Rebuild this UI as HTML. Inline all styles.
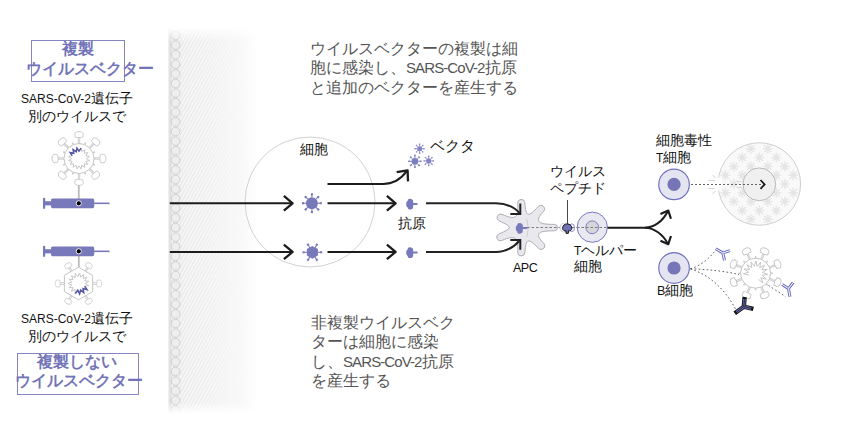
<!DOCTYPE html>
<html><head><meta charset="utf-8">
<style>
html,body{margin:0;padding:0;background:#fff;}
body{width:849px;height:430px;position:relative;overflow:hidden;font-family:"Liberation Sans",sans-serif;}
svg{position:absolute;left:0;top:0;}
.t{position:absolute;white-space:nowrap;color:#111;font-size:13px;line-height:16px;}
.hd{position:absolute;white-space:nowrap;color:#7374b8;font-weight:bold;font-size:16px;line-height:20px;}
.gr{position:absolute;white-space:nowrap;color:#555;font-size:16px;line-height:20px;}
.box{position:absolute;border:1px solid #8585c2;box-sizing:border-box;}
.s12{font-size:12px;}
.s125{font-size:12.5px;}
.s15{font-size:15px;letter-spacing:-0.9px;}
</style></head><body>
<svg width="849" height="430" viewBox="0 0 849 430">
<defs>
  <pattern id="hatch" patternUnits="userSpaceOnUse" width="3.05" height="10" patternTransform="rotate(29)">
    <rect width="1.1" height="10" fill="#e5e5e5"/>
  </pattern>
  <linearGradient id="fadeR" gradientUnits="userSpaceOnUse" x1="169" y1="0" x2="245" y2="0">
    <stop offset="0" stop-color="#fff" stop-opacity="1"/>
    <stop offset="0.12" stop-color="#fff" stop-opacity="1"/>
    <stop offset="1" stop-color="#fff" stop-opacity="0"/>
  </linearGradient>
  <linearGradient id="tint" gradientUnits="userSpaceOnUse" x1="169" y1="0" x2="262" y2="0">
    <stop offset="0" stop-color="#f5f5f5" stop-opacity="1"/>
    <stop offset="0.8" stop-color="#f9f9f9" stop-opacity="1"/>
    <stop offset="1" stop-color="#fdfdfd" stop-opacity="0"/>
  </linearGradient>
  <linearGradient id="fadeV" x1="0" y1="0" x2="0" y2="1">
    <stop offset="0" stop-color="#fff" stop-opacity="0"/>
    <stop offset="0.036" stop-color="#fff" stop-opacity="1"/>
    <stop offset="0.97" stop-color="#fff" stop-opacity="1"/>
    <stop offset="1" stop-color="#fff" stop-opacity="0"/>
  </linearGradient>
  <mask id="mR" maskUnits="userSpaceOnUse" x="160" y="20" width="120" height="400"><rect x="169" y="24" width="100" height="394" fill="url(#fadeR)"/></mask>
  <mask id="mV" maskUnits="userSpaceOnUse" x="160" y="20" width="120" height="400"><rect x="160" y="27" width="120" height="387" fill="url(#fadeV)"/></mask>
</defs>
<g mask="url(#mV)">
<rect x="169" y="24" width="100" height="394" fill="url(#tint)"/>
<rect x="169" y="24" width="100" height="394" fill="url(#hatch)" mask="url(#mR)"/>
<rect x="168.5" y="24" width="3" height="394" fill="#e2e2e2"/>
<g fill="#eeeef0" stroke="#d0d0d0" stroke-width="1">
<circle cx="175.6" cy="35.5" r="4.35"/>
<circle cx="175.6" cy="45.1" r="4.35"/>
<circle cx="175.6" cy="54.7" r="4.35"/>
<circle cx="175.6" cy="64.3" r="4.35"/>
<circle cx="175.6" cy="73.9" r="4.35"/>
<circle cx="175.6" cy="83.5" r="4.35"/>
<circle cx="175.6" cy="93.1" r="4.35"/>
<circle cx="175.6" cy="102.7" r="4.35"/>
<circle cx="175.6" cy="112.3" r="4.35"/>
<circle cx="175.6" cy="121.9" r="4.35"/>
<circle cx="175.6" cy="131.5" r="4.35"/>
<circle cx="175.6" cy="141.1" r="4.35"/>
<circle cx="175.6" cy="150.7" r="4.35"/>
<circle cx="175.6" cy="160.3" r="4.35"/>
<circle cx="175.6" cy="169.9" r="4.35"/>
<circle cx="175.6" cy="179.5" r="4.35"/>
<circle cx="175.6" cy="189.1" r="4.35"/>
<circle cx="175.6" cy="198.7" r="4.35"/>
<circle cx="175.6" cy="208.3" r="4.35"/>
<circle cx="175.6" cy="217.9" r="4.35"/>
<circle cx="175.6" cy="227.5" r="4.35"/>
<circle cx="175.6" cy="237.1" r="4.35"/>
<circle cx="175.6" cy="246.7" r="4.35"/>
<circle cx="175.6" cy="256.3" r="4.35"/>
<circle cx="175.6" cy="265.9" r="4.35"/>
<circle cx="175.6" cy="275.5" r="4.35"/>
<circle cx="175.6" cy="285.1" r="4.35"/>
<circle cx="175.6" cy="294.7" r="4.35"/>
<circle cx="175.6" cy="304.3" r="4.35"/>
<circle cx="175.6" cy="313.9" r="4.35"/>
<circle cx="175.6" cy="323.5" r="4.35"/>
<circle cx="175.6" cy="333.1" r="4.35"/>
<circle cx="175.6" cy="342.7" r="4.35"/>
<circle cx="175.6" cy="352.3" r="4.35"/>
<circle cx="175.6" cy="361.9" r="4.35"/>
<circle cx="175.6" cy="371.5" r="4.35"/>
<circle cx="175.6" cy="381.1" r="4.35"/>
<circle cx="175.6" cy="390.7" r="4.35"/>
<circle cx="175.6" cy="400.3" r="4.35"/>
<circle cx="175.6" cy="409.9" r="4.35"/>
<circle cx="175.6" cy="419.5" r="4.35"/>
</g></g>
<g>
<line x1="94" y1="158.5" x2="100.2" y2="158.5" stroke="#cdcdcd" stroke-width="2.4"/>
<line x1="94" y1="158.5" x2="100.2" y2="158.5" stroke="#e8e8e8" stroke-width="0.8"/>
<g transform="translate(99.9,158.5) rotate(0) scale(1)"><path d="M0.4,-2.6 C-0.3,-3.9 1.2,-4.5 2.3,-4 C3.1,-4.7 5.1,-4.3 5.3,-2.8 C6.3,-2 6.3,2 5.3,2.8 C5.1,4.3 3.1,4.7 2.3,4 C1.2,4.5 -0.3,3.9 0.4,2.6 C-0.2,1.3 -0.2,-1.3 0.4,-2.6 Z" fill="#fff" stroke="#c4c4c4" stroke-width="0.9"/></g>
<line x1="89.61" y1="169.11" x2="93.99" y2="173.49" stroke="#cdcdcd" stroke-width="2.4"/>
<line x1="89.61" y1="169.11" x2="93.99" y2="173.49" stroke="#e8e8e8" stroke-width="0.8"/>
<g transform="translate(93.78,173.28) rotate(45) scale(1)"><path d="M0.4,-2.6 C-0.3,-3.9 1.2,-4.5 2.3,-4 C3.1,-4.7 5.1,-4.3 5.3,-2.8 C6.3,-2 6.3,2 5.3,2.8 C5.1,4.3 3.1,4.7 2.3,4 C1.2,4.5 -0.3,3.9 0.4,2.6 C-0.2,1.3 -0.2,-1.3 0.4,-2.6 Z" fill="#fff" stroke="#c4c4c4" stroke-width="0.9"/></g>
<line x1="79" y1="173.5" x2="79" y2="179.7" stroke="#cdcdcd" stroke-width="2.4"/>
<line x1="79" y1="173.5" x2="79" y2="179.7" stroke="#e8e8e8" stroke-width="0.8"/>
<g transform="translate(79,179.4) rotate(90) scale(1)"><path d="M0.4,-2.6 C-0.3,-3.9 1.2,-4.5 2.3,-4 C3.1,-4.7 5.1,-4.3 5.3,-2.8 C6.3,-2 6.3,2 5.3,2.8 C5.1,4.3 3.1,4.7 2.3,4 C1.2,4.5 -0.3,3.9 0.4,2.6 C-0.2,1.3 -0.2,-1.3 0.4,-2.6 Z" fill="#fff" stroke="#c4c4c4" stroke-width="0.9"/></g>
<line x1="68.39" y1="169.11" x2="64.01" y2="173.49" stroke="#cdcdcd" stroke-width="2.4"/>
<line x1="68.39" y1="169.11" x2="64.01" y2="173.49" stroke="#e8e8e8" stroke-width="0.8"/>
<g transform="translate(64.22,173.28) rotate(135) scale(1)"><path d="M0.4,-2.6 C-0.3,-3.9 1.2,-4.5 2.3,-4 C3.1,-4.7 5.1,-4.3 5.3,-2.8 C6.3,-2 6.3,2 5.3,2.8 C5.1,4.3 3.1,4.7 2.3,4 C1.2,4.5 -0.3,3.9 0.4,2.6 C-0.2,1.3 -0.2,-1.3 0.4,-2.6 Z" fill="#fff" stroke="#c4c4c4" stroke-width="0.9"/></g>
<line x1="64" y1="158.5" x2="57.8" y2="158.5" stroke="#cdcdcd" stroke-width="2.4"/>
<line x1="64" y1="158.5" x2="57.8" y2="158.5" stroke="#e8e8e8" stroke-width="0.8"/>
<g transform="translate(58.1,158.5) rotate(180) scale(1)"><path d="M0.4,-2.6 C-0.3,-3.9 1.2,-4.5 2.3,-4 C3.1,-4.7 5.1,-4.3 5.3,-2.8 C6.3,-2 6.3,2 5.3,2.8 C5.1,4.3 3.1,4.7 2.3,4 C1.2,4.5 -0.3,3.9 0.4,2.6 C-0.2,1.3 -0.2,-1.3 0.4,-2.6 Z" fill="#fff" stroke="#c4c4c4" stroke-width="0.9"/></g>
<line x1="68.39" y1="147.89" x2="64.01" y2="143.51" stroke="#cdcdcd" stroke-width="2.4"/>
<line x1="68.39" y1="147.89" x2="64.01" y2="143.51" stroke="#e8e8e8" stroke-width="0.8"/>
<g transform="translate(64.22,143.72) rotate(225) scale(1)"><path d="M0.4,-2.6 C-0.3,-3.9 1.2,-4.5 2.3,-4 C3.1,-4.7 5.1,-4.3 5.3,-2.8 C6.3,-2 6.3,2 5.3,2.8 C5.1,4.3 3.1,4.7 2.3,4 C1.2,4.5 -0.3,3.9 0.4,2.6 C-0.2,1.3 -0.2,-1.3 0.4,-2.6 Z" fill="#fff" stroke="#c4c4c4" stroke-width="0.9"/></g>
<line x1="79" y1="143.5" x2="79" y2="137.3" stroke="#cdcdcd" stroke-width="2.4"/>
<line x1="79" y1="143.5" x2="79" y2="137.3" stroke="#e8e8e8" stroke-width="0.8"/>
<g transform="translate(79,137.6) rotate(270) scale(1)"><path d="M0.4,-2.6 C-0.3,-3.9 1.2,-4.5 2.3,-4 C3.1,-4.7 5.1,-4.3 5.3,-2.8 C6.3,-2 6.3,2 5.3,2.8 C5.1,4.3 3.1,4.7 2.3,4 C1.2,4.5 -0.3,3.9 0.4,2.6 C-0.2,1.3 -0.2,-1.3 0.4,-2.6 Z" fill="#fff" stroke="#c4c4c4" stroke-width="0.9"/></g>
<line x1="89.61" y1="147.89" x2="93.99" y2="143.51" stroke="#cdcdcd" stroke-width="2.4"/>
<line x1="89.61" y1="147.89" x2="93.99" y2="143.51" stroke="#e8e8e8" stroke-width="0.8"/>
<g transform="translate(93.78,143.72) rotate(315) scale(1)"><path d="M0.4,-2.6 C-0.3,-3.9 1.2,-4.5 2.3,-4 C3.1,-4.7 5.1,-4.3 5.3,-2.8 C6.3,-2 6.3,2 5.3,2.8 C5.1,4.3 3.1,4.7 2.3,4 C1.2,4.5 -0.3,3.9 0.4,2.6 C-0.2,1.3 -0.2,-1.3 0.4,-2.6 Z" fill="#fff" stroke="#c4c4c4" stroke-width="0.9"/></g>
<line x1="92.86" y1="164.24" x2="94.89" y2="165.08" stroke="#c6c6c6" stroke-width="1.4"/>
<line x1="84.74" y1="172.36" x2="85.58" y2="174.39" stroke="#c6c6c6" stroke-width="1.4"/>
<line x1="73.26" y1="172.36" x2="72.42" y2="174.39" stroke="#c6c6c6" stroke-width="1.4"/>
<line x1="65.14" y1="164.24" x2="63.11" y2="165.08" stroke="#c6c6c6" stroke-width="1.4"/>
<line x1="65.14" y1="152.76" x2="63.11" y2="151.92" stroke="#c6c6c6" stroke-width="1.4"/>
<line x1="73.26" y1="144.64" x2="72.42" y2="142.61" stroke="#c6c6c6" stroke-width="1.4"/>
<line x1="84.74" y1="144.64" x2="85.58" y2="142.61" stroke="#c6c6c6" stroke-width="1.4"/>
<line x1="92.86" y1="152.76" x2="94.89" y2="151.92" stroke="#c6c6c6" stroke-width="1.4"/>
<circle cx="79" cy="158.5" r="15" fill="#fff" stroke="#c6c6c6" stroke-width="1"/>
</g>
<polyline points="86.4,158.5 89.4,160.57 85.84,161.33 87.81,164.39 84.23,163.73 84.89,167.31 81.83,165.34 81.07,168.9 79,165.9 76.93,168.9 76.17,165.34 73.11,167.31 73.77,163.73 70.19,164.39 72.16,161.33 68.6,160.57 71.6,158.5 68.6,156.43 72.16,155.67 70.19,152.61 73.77,153.27 73.11,149.69 76.17,151.66 76.93,148.1 79,151.1 81.07,148.1 81.83,151.66 84.89,149.69 84.23,153.27 87.81,152.61 85.84,155.67 89.4,156.43 86.4,158.5" fill="none" stroke="#c6c6c6" stroke-width="1"/>
<polyline points="72.16,155.67 70.19,152.61 73.77,153.27 73.11,149.69 76.17,151.66 76.93,148.1 79,151.1 81.07,148.1" fill="none" stroke="#5556a6" stroke-width="1.5" stroke-linejoin="miter"/>
<line x1="78.8" y1="185" x2="78.8" y2="203" stroke="#bcbcbc" stroke-width="1.8"/>
<g fill="#7879bb">
<rect x="43" y="197.9" width="2.2" height="10.8" />
<rect x="44" y="201.2" width="8" height="4.2" />
<rect x="51" y="198.4" width="43.2" height="9.8" rx="1.6"/>
<rect x="93" y="202.5" width="16.5" height="1.6" />
</g>
<circle cx="78.8" cy="203.3" r="2.6" fill="#000" stroke="#fff" stroke-width="0.9"/>
<line x1="78.8" y1="251.3" x2="78.8" y2="267.5" stroke="#bcbcbc" stroke-width="1.8"/>
<g fill="#7879bb">
<rect x="43" y="245.9" width="2.2" height="10.8" />
<rect x="44" y="249.2" width="8" height="4.2" />
<rect x="51" y="246.4" width="43.2" height="9.8" rx="1.6"/>
<rect x="93" y="250.5" width="16.5" height="1.6" />
</g>
<circle cx="78.8" cy="251.3" r="2.6" fill="#000" stroke="#fff" stroke-width="0.9"/>
<line x1="92.62" y1="283.5" x2="97.1" y2="283.5" stroke="#c6c6c6" stroke-width="2.4"/>
<line x1="92.62" y1="283.5" x2="97.1" y2="283.5" stroke="#fff" stroke-width="0.8"/>
<g transform="translate(96.8,283.5) rotate(0) scale(0.82)"><path d="M0.4,-2.6 C-0.3,-3.9 1.2,-4.5 2.3,-4 C3.1,-4.7 5.1,-4.3 5.3,-2.8 C6.3,-2 6.3,2 5.3,2.8 C5.1,4.3 3.1,4.7 2.3,4 C1.2,4.5 -0.3,3.9 0.4,2.6 C-0.2,1.3 -0.2,-1.3 0.4,-2.6 Z" fill="#fff" stroke="#c4c4c4" stroke-width="0.9"/></g>
<line x1="85.56" y1="295.73" x2="87.8" y2="299.61" stroke="#c6c6c6" stroke-width="2.4"/>
<line x1="85.56" y1="295.73" x2="87.8" y2="299.61" stroke="#fff" stroke-width="0.8"/>
<g transform="translate(87.65,299.35) rotate(60) scale(0.82)"><path d="M0.4,-2.6 C-0.3,-3.9 1.2,-4.5 2.3,-4 C3.1,-4.7 5.1,-4.3 5.3,-2.8 C6.3,-2 6.3,2 5.3,2.8 C5.1,4.3 3.1,4.7 2.3,4 C1.2,4.5 -0.3,3.9 0.4,2.6 C-0.2,1.3 -0.2,-1.3 0.4,-2.6 Z" fill="#fff" stroke="#c4c4c4" stroke-width="0.9"/></g>
<line x1="71.44" y1="295.73" x2="69.2" y2="299.61" stroke="#c6c6c6" stroke-width="2.4"/>
<line x1="71.44" y1="295.73" x2="69.2" y2="299.61" stroke="#fff" stroke-width="0.8"/>
<g transform="translate(69.35,299.35) rotate(120) scale(0.82)"><path d="M0.4,-2.6 C-0.3,-3.9 1.2,-4.5 2.3,-4 C3.1,-4.7 5.1,-4.3 5.3,-2.8 C6.3,-2 6.3,2 5.3,2.8 C5.1,4.3 3.1,4.7 2.3,4 C1.2,4.5 -0.3,3.9 0.4,2.6 C-0.2,1.3 -0.2,-1.3 0.4,-2.6 Z" fill="#fff" stroke="#c4c4c4" stroke-width="0.9"/></g>
<line x1="64.38" y1="283.5" x2="59.9" y2="283.5" stroke="#c6c6c6" stroke-width="2.4"/>
<line x1="64.38" y1="283.5" x2="59.9" y2="283.5" stroke="#fff" stroke-width="0.8"/>
<g transform="translate(60.2,283.5) rotate(180) scale(0.82)"><path d="M0.4,-2.6 C-0.3,-3.9 1.2,-4.5 2.3,-4 C3.1,-4.7 5.1,-4.3 5.3,-2.8 C6.3,-2 6.3,2 5.3,2.8 C5.1,4.3 3.1,4.7 2.3,4 C1.2,4.5 -0.3,3.9 0.4,2.6 C-0.2,1.3 -0.2,-1.3 0.4,-2.6 Z" fill="#fff" stroke="#c4c4c4" stroke-width="0.9"/></g>
<line x1="71.44" y1="271.27" x2="69.2" y2="267.39" stroke="#c6c6c6" stroke-width="2.4"/>
<line x1="71.44" y1="271.27" x2="69.2" y2="267.39" stroke="#fff" stroke-width="0.8"/>
<g transform="translate(69.35,267.65) rotate(240) scale(0.82)"><path d="M0.4,-2.6 C-0.3,-3.9 1.2,-4.5 2.3,-4 C3.1,-4.7 5.1,-4.3 5.3,-2.8 C6.3,-2 6.3,2 5.3,2.8 C5.1,4.3 3.1,4.7 2.3,4 C1.2,4.5 -0.3,3.9 0.4,2.6 C-0.2,1.3 -0.2,-1.3 0.4,-2.6 Z" fill="#fff" stroke="#c4c4c4" stroke-width="0.9"/></g>
<line x1="85.56" y1="271.27" x2="87.8" y2="267.39" stroke="#c6c6c6" stroke-width="2.4"/>
<line x1="85.56" y1="271.27" x2="87.8" y2="267.39" stroke="#fff" stroke-width="0.8"/>
<g transform="translate(87.65,267.65) rotate(300) scale(0.82)"><path d="M0.4,-2.6 C-0.3,-3.9 1.2,-4.5 2.3,-4 C3.1,-4.7 5.1,-4.3 5.3,-2.8 C6.3,-2 6.3,2 5.3,2.8 C5.1,4.3 3.1,4.7 2.3,4 C1.2,4.5 -0.3,3.9 0.4,2.6 C-0.2,1.3 -0.2,-1.3 0.4,-2.6 Z" fill="#fff" stroke="#c4c4c4" stroke-width="0.9"/></g>
<polygon points="78.5,267.2 92.62,275.35 92.62,291.65 78.5,299.8 64.38,291.65 64.38,275.35" fill="#fff" stroke="#c6c6c6" stroke-width="1"/>
<polyline points="85.3,283.5 88.77,285.68 84.71,286.27 86.99,289.67 83.05,288.55 83.75,292.59 80.6,289.97 79.6,293.94 77.79,290.26 75.26,293.49 75.1,289.39 71.47,291.3 73,287.5 68.91,287.77 71.85,284.91 68,283.5 71.85,282.09 68.91,279.23 73,279.5 71.47,275.7 75.1,277.61 75.26,273.51 77.79,276.74 79.6,273.06 80.6,277.03 83.75,274.41 83.05,278.45 86.99,277.33 84.71,280.73 88.77,281.32 85.3,283.5" fill="none" stroke="#c6c6c6" stroke-width="1"/>
<polyline points="84.71,286.27 86.99,289.67 83.05,288.55 83.75,292.59 80.6,289.97 79.6,293.94 77.79,290.26 75.26,293.49" fill="none" stroke="#5556a6" stroke-width="1.5" stroke-linejoin="miter"/>
<circle cx="310" cy="202" r="65" fill="none" stroke="#d2d2d2" stroke-width="1"/>
<g stroke="#1c1c1c" stroke-width="2" fill="none" stroke-linecap="butt">
<path d="M169.8,203.3 H292"/>
<path d="M169.8,251.9 H292"/>
<path d="M327.5,203.3 H395"/>
<path d="M327.5,251.9 H395"/>
<path d="M327.5,183.9 H383 C393,183.9 401,179 407,170.8"/>
</g>
<path d="M283.87,210.63 L292.6,203.3 L283.87,195.97" stroke="#1c1c1c" stroke-width="2.3" fill="none" stroke-linejoin="round"/>
<path d="M386.87,210.63 L395.6,203.3 L386.87,195.97" stroke="#1c1c1c" stroke-width="2.3" fill="none" stroke-linejoin="round"/>
<path d="M283.87,259.23 L292.6,251.9 L283.87,244.57" stroke="#1c1c1c" stroke-width="2.3" fill="none" stroke-linejoin="round"/>
<path d="M386.87,259.23 L395.6,251.9 L386.87,244.57" stroke="#1c1c1c" stroke-width="2.3" fill="none" stroke-linejoin="round"/>
<path d="M407.99,181.39 L407.6,170.3 L396.67,172.23" stroke="#1c1c1c" stroke-width="2.3" fill="none" stroke-linejoin="round"/>
<g fill="#7879bb" stroke="#7879bb">
<circle cx="311.9" cy="203.2" r="6" stroke="none"/>
<line x1="317.9" y1="203.2" x2="320.8" y2="203.2" stroke-width="1.1"/>
<rect x="319.75" y="202.15" width="2.1" height="2.1" stroke="none" transform="rotate(0 320.8 203.2)"/>
<line x1="316.14" y1="207.44" x2="318.19" y2="209.49" stroke-width="1.1"/>
<rect x="317.14" y="208.44" width="2.1" height="2.1" stroke="none" transform="rotate(45 318.19 209.49)"/>
<line x1="311.9" y1="209.2" x2="311.9" y2="212.1" stroke-width="1.1"/>
<rect x="310.85" y="211.05" width="2.1" height="2.1" stroke="none" transform="rotate(90 311.9 212.1)"/>
<line x1="307.66" y1="207.44" x2="305.61" y2="209.49" stroke-width="1.1"/>
<rect x="304.56" y="208.44" width="2.1" height="2.1" stroke="none" transform="rotate(135 305.61 209.49)"/>
<line x1="305.9" y1="203.2" x2="303" y2="203.2" stroke-width="1.1"/>
<rect x="301.95" y="202.15" width="2.1" height="2.1" stroke="none" transform="rotate(180 303 203.2)"/>
<line x1="307.66" y1="198.96" x2="305.61" y2="196.91" stroke-width="1.1"/>
<rect x="304.56" y="195.86" width="2.1" height="2.1" stroke="none" transform="rotate(225 305.61 196.91)"/>
<line x1="311.9" y1="197.2" x2="311.9" y2="194.3" stroke-width="1.1"/>
<rect x="310.85" y="193.25" width="2.1" height="2.1" stroke="none" transform="rotate(270 311.9 194.3)"/>
<line x1="316.14" y1="198.96" x2="318.19" y2="196.91" stroke-width="1.1"/>
<rect x="317.14" y="195.86" width="2.1" height="2.1" stroke="none" transform="rotate(315 318.19 196.91)"/>
</g>
<polygon points="312.4,245.9 317.94,249.1 317.94,255.5 312.4,258.7 306.86,255.5 306.86,249.1" fill="#7879bb"/>
<line x1="317.4" y1="252.3" x2="321.2" y2="252.3" stroke="#7879bb" stroke-width="1.1"/>
<rect x="320.15" y="251.25" width="2.1" height="2.1" fill="#7879bb" transform="rotate(0 321.2 252.3)"/>
<line x1="314.9" y1="256.63" x2="316.8" y2="259.92" stroke="#7879bb" stroke-width="1.1"/>
<rect x="315.75" y="258.87" width="2.1" height="2.1" fill="#7879bb" transform="rotate(60 316.8 259.92)"/>
<line x1="309.9" y1="256.63" x2="308" y2="259.92" stroke="#7879bb" stroke-width="1.1"/>
<rect x="306.95" y="258.87" width="2.1" height="2.1" fill="#7879bb" transform="rotate(120 308 259.92)"/>
<line x1="307.4" y1="252.3" x2="303.6" y2="252.3" stroke="#7879bb" stroke-width="1.1"/>
<rect x="302.55" y="251.25" width="2.1" height="2.1" fill="#7879bb" transform="rotate(180 303.6 252.3)"/>
<line x1="309.9" y1="247.97" x2="308" y2="244.68" stroke="#7879bb" stroke-width="1.1"/>
<rect x="306.95" y="243.63" width="2.1" height="2.1" fill="#7879bb" transform="rotate(240 308 244.68)"/>
<line x1="314.9" y1="247.97" x2="316.8" y2="244.68" stroke="#7879bb" stroke-width="1.1"/>
<rect x="315.75" y="243.63" width="2.1" height="2.1" fill="#7879bb" transform="rotate(300 316.8 244.68)"/>
<g fill="#8283c2" stroke="#8283c2">
<circle cx="419.6" cy="148.7" r="2.5" stroke="none"/>
<line x1="422.1" y1="148.7" x2="424.1" y2="148.7" stroke-width="0.9"/>
<rect x="423.45" y="148.05" width="1.3" height="1.3" stroke="none" transform="rotate(0 424.1 148.7)"/>
<line x1="421.37" y1="150.47" x2="422.78" y2="151.88" stroke-width="0.9"/>
<rect x="422.13" y="151.23" width="1.3" height="1.3" stroke="none" transform="rotate(45 422.78 151.88)"/>
<line x1="419.6" y1="151.2" x2="419.6" y2="153.2" stroke-width="0.9"/>
<rect x="418.95" y="152.55" width="1.3" height="1.3" stroke="none" transform="rotate(90 419.6 153.2)"/>
<line x1="417.83" y1="150.47" x2="416.42" y2="151.88" stroke-width="0.9"/>
<rect x="415.77" y="151.23" width="1.3" height="1.3" stroke="none" transform="rotate(135 416.42 151.88)"/>
<line x1="417.1" y1="148.7" x2="415.1" y2="148.7" stroke-width="0.9"/>
<rect x="414.45" y="148.05" width="1.3" height="1.3" stroke="none" transform="rotate(180 415.1 148.7)"/>
<line x1="417.83" y1="146.93" x2="416.42" y2="145.52" stroke-width="0.9"/>
<rect x="415.77" y="144.87" width="1.3" height="1.3" stroke="none" transform="rotate(225 416.42 145.52)"/>
<line x1="419.6" y1="146.2" x2="419.6" y2="144.2" stroke-width="0.9"/>
<rect x="418.95" y="143.55" width="1.3" height="1.3" stroke="none" transform="rotate(270 419.6 144.2)"/>
<line x1="421.37" y1="146.93" x2="422.78" y2="145.52" stroke-width="0.9"/>
<rect x="422.13" y="144.87" width="1.3" height="1.3" stroke="none" transform="rotate(315 422.78 145.52)"/>
</g>
<g fill="#7c7dbf" stroke="#7c7dbf">
<circle cx="414.9" cy="161.3" r="3.4" stroke="none"/>
<line x1="418.3" y1="161.3" x2="420.8" y2="161.3" stroke-width="1"/>
<rect x="420" y="160.5" width="1.6" height="1.6" stroke="none" transform="rotate(0 420.8 161.3)"/>
<line x1="417.3" y1="163.7" x2="419.07" y2="165.47" stroke-width="1"/>
<rect x="418.27" y="164.67" width="1.6" height="1.6" stroke="none" transform="rotate(45 419.07 165.47)"/>
<line x1="414.9" y1="164.7" x2="414.9" y2="167.2" stroke-width="1"/>
<rect x="414.1" y="166.4" width="1.6" height="1.6" stroke="none" transform="rotate(90 414.9 167.2)"/>
<line x1="412.5" y1="163.7" x2="410.73" y2="165.47" stroke-width="1"/>
<rect x="409.93" y="164.67" width="1.6" height="1.6" stroke="none" transform="rotate(135 410.73 165.47)"/>
<line x1="411.5" y1="161.3" x2="409" y2="161.3" stroke-width="1"/>
<rect x="408.2" y="160.5" width="1.6" height="1.6" stroke="none" transform="rotate(180 409 161.3)"/>
<line x1="412.5" y1="158.9" x2="410.73" y2="157.13" stroke-width="1"/>
<rect x="409.93" y="156.33" width="1.6" height="1.6" stroke="none" transform="rotate(225 410.73 157.13)"/>
<line x1="414.9" y1="157.9" x2="414.9" y2="155.4" stroke-width="1"/>
<rect x="414.1" y="154.6" width="1.6" height="1.6" stroke="none" transform="rotate(270 414.9 155.4)"/>
<line x1="417.3" y1="158.9" x2="419.07" y2="157.13" stroke-width="1"/>
<rect x="418.27" y="156.33" width="1.6" height="1.6" stroke="none" transform="rotate(315 419.07 157.13)"/>
</g>
<g fill="#8283c2" stroke="#8283c2">
<circle cx="428.7" cy="160.9" r="2.6" stroke="none"/>
<line x1="431.3" y1="160.9" x2="433.4" y2="160.9" stroke-width="0.9"/>
<rect x="432.75" y="160.25" width="1.3" height="1.3" stroke="none" transform="rotate(0 433.4 160.9)"/>
<line x1="430.54" y1="162.74" x2="432.02" y2="164.22" stroke-width="0.9"/>
<rect x="431.37" y="163.57" width="1.3" height="1.3" stroke="none" transform="rotate(45 432.02 164.22)"/>
<line x1="428.7" y1="163.5" x2="428.7" y2="165.6" stroke-width="0.9"/>
<rect x="428.05" y="164.95" width="1.3" height="1.3" stroke="none" transform="rotate(90 428.7 165.6)"/>
<line x1="426.86" y1="162.74" x2="425.38" y2="164.22" stroke-width="0.9"/>
<rect x="424.73" y="163.57" width="1.3" height="1.3" stroke="none" transform="rotate(135 425.38 164.22)"/>
<line x1="426.1" y1="160.9" x2="424" y2="160.9" stroke-width="0.9"/>
<rect x="423.35" y="160.25" width="1.3" height="1.3" stroke="none" transform="rotate(180 424 160.9)"/>
<line x1="426.86" y1="159.06" x2="425.38" y2="157.58" stroke-width="0.9"/>
<rect x="424.73" y="156.93" width="1.3" height="1.3" stroke="none" transform="rotate(225 425.38 157.58)"/>
<line x1="428.7" y1="158.3" x2="428.7" y2="156.2" stroke-width="0.9"/>
<rect x="428.05" y="155.55" width="1.3" height="1.3" stroke="none" transform="rotate(270 428.7 156.2)"/>
<line x1="430.54" y1="159.06" x2="432.02" y2="157.58" stroke-width="0.9"/>
<rect x="431.37" y="156.93" width="1.3" height="1.3" stroke="none" transform="rotate(315 432.02 157.58)"/>
</g>
<g transform="translate(406.2,204.2) scale(1)"><path d="M3.6,-5.4 C5.6,-5.4 7,-4.4 7,-2.8 V-1.2 H11.3 V0.8 H7 V2.8 C7,4.4 5.6,5.4 3.6,5.4 C1.8,5.4 1.4,4.2 1.6,3.4 C0.2,2.6 0,1.4 0,0 C0,-1.4 0.2,-2.6 1.6,-3.4 C1.4,-4.2 1.8,-5.4 3.6,-5.4 Z" fill="#7879bb"/></g>
<g transform="translate(406.2,252.6) scale(1)"><path d="M3.6,-5.4 C5.6,-5.4 7,-4.4 7,-2.8 V-1.2 H11.3 V0.8 H7 V2.8 C7,4.4 5.6,5.4 3.6,5.4 C1.8,5.4 1.4,4.2 1.6,3.4 C0.2,2.6 0,1.4 0,0 C0,-1.4 0.2,-2.6 1.6,-3.4 C1.4,-4.2 1.8,-5.4 3.6,-5.4 Z" fill="#7879bb"/></g>
<path d="M554.3,224.4 A3.2,3.2 0 0 1 554.3,230.8 C539.3,230.8 533.25,232.76 543.86,243.37 A3.6,3.6 0 0 1 538.77,248.46 C528.16,237.85 525.9,237.73 524.85,252.69 A3.6,3.6 0 0 1 517.67,252.19 C518.72,237.22 515.57,234.66 501.76,240.53 A3.6,3.6 0 0 1 498.95,233.9 C512.76,228.04 512.77,226.98 499.06,220.88 A3.6,3.6 0 0 1 501.99,214.31 C515.69,220.41 518.74,218.27 517.69,203.31 A3.6,3.6 0 0 1 524.88,202.81 C525.92,217.77 528.05,217.19 538.47,206.4 A3.6,3.6 0 0 1 543.65,211.4 C533.23,222.19 539.3,224.4 554.3,224.4 Z" fill="#e8e8ed" stroke="#a6a6aa" stroke-width="0.9"/>
<path d="M526.5,219 C528.5,223 528.5,233 526.5,237" fill="none" stroke="#c4c4c8" stroke-width="0.8"/>
<g stroke="#222" stroke-width="2" fill="none">
<path d="M426,203.3 H496 C508,203.3 515,207.5 520.3,213.9"/>
<path d="M510.3,213.9 H520.3 V203.4"/>
<path d="M426,251.9 H496 C508,251.9 515,246 520.3,240"/>
<path d="M510.3,240 H520.3 V249.8"/>
</g>
<g transform="translate(515.8,228.3) scale(1)"><path d="M3.6,-5.4 C5.6,-5.4 7,-4.4 7,-2.8 V-1.2 H11.3 V0.8 H7 V2.8 C7,4.4 5.6,5.4 3.6,5.4 C1.8,5.4 1.4,4.2 1.6,3.4 C0.2,2.6 0,1.4 0,0 C0,-1.4 0.2,-2.6 1.6,-3.4 C1.4,-4.2 1.8,-5.4 3.6,-5.4 Z" fill="#7879bb"/></g>
<line x1="527" y1="227.5" x2="607" y2="227.5" stroke="#7a7a7a" stroke-width="1" stroke-dasharray="2.5 2"/>
<ellipse cx="563.5" cy="227.8" rx="3.4" ry="4.1" fill="#fff" stroke="#c4c4c8" stroke-width="0.8"/>
<ellipse cx="571.9" cy="227.7" rx="2.6" ry="3.9" fill="none" stroke="#7d7ec8" stroke-width="0.9"/>
<path d="M562.6,228.5 c0,-3 2,-4.6 4.6,-4.6 c2.6,0 4.6,1.6 4.6,4.6 c0,1.6 -1.6,2.4 -3.4,2.4 v2.4 h-2.4 v-2.4 c-1.8,0 -3.4,-0.8 -3.4,-2.4 z" fill="#7071b5" stroke="#111" stroke-width="1"/>
<line x1="567.5" y1="200" x2="567.5" y2="224" stroke="#333" stroke-width="0.9"/>
<circle cx="592.3" cy="227.2" r="15.1" fill="#e8e8f0" stroke="#7a7ac4" stroke-width="1"/>
<circle cx="592.2" cy="227.3" r="6.4" fill="#d6d6da" stroke="#7a7ac4" stroke-width="1"/>
<line x1="577" y1="227.5" x2="607" y2="227.5" stroke="#7a7a7a" stroke-width="1" stroke-dasharray="2.5 2"/>
<g stroke="#1c1c1c" stroke-width="2" fill="none">
<path d="M607.5,227.7 H645 C654,227.7 663,221 667.8,211.2"/>
<path d="M645,227.7 C654,227.7 663,234.4 667.8,243.6"/>
</g>
<path d="M670.96,218.78 L668.3,210.6 L660.44,214.1" stroke="#1c1c1c" stroke-width="2.2" fill="none" stroke-linejoin="round"/>
<path d="M660.44,240.7 L668.3,244.2 L670.96,236.02" stroke="#1c1c1c" stroke-width="2.2" fill="none" stroke-linejoin="round"/>
<circle cx="674.05" cy="184.4" r="15.3" fill="#e5e5f1" stroke="#7374c0" stroke-width="1.2"/>
<circle cx="674.05" cy="184.4" r="6.6" fill="#7575b8"/>
<circle cx="674.05" cy="268" r="15.3" fill="#e5e5f1" stroke="#7374c0" stroke-width="1.2"/>
<circle cx="674.05" cy="268" r="6.6" fill="#7575b8"/>
<circle cx="759.3" cy="184" r="41.3" fill="#f9f9f9" stroke="#cfcfcf" stroke-width="1"/>
<rect x="713" y="177.5" width="9" height="13" fill="#fff"/>
<g fill="#e5e5e7" stroke="#e5e5e7">
<circle cx="750.8" cy="148.8" r="2.6" stroke="none"/>
<line x1="753.4" y1="148.8" x2="755" y2="148.8" stroke-width="1.1"/>
<rect x="754.3" y="148.1" width="1.4" height="1.4" stroke="none" transform="rotate(0 755 148.8)"/>
<line x1="752.64" y1="150.64" x2="753.77" y2="151.77" stroke-width="1.1"/>
<rect x="753.07" y="151.07" width="1.4" height="1.4" stroke="none" transform="rotate(45 753.77 151.77)"/>
<line x1="750.8" y1="151.4" x2="750.8" y2="153" stroke-width="1.1"/>
<rect x="750.1" y="152.3" width="1.4" height="1.4" stroke="none" transform="rotate(90 750.8 153)"/>
<line x1="748.96" y1="150.64" x2="747.83" y2="151.77" stroke-width="1.1"/>
<rect x="747.13" y="151.07" width="1.4" height="1.4" stroke="none" transform="rotate(135 747.83 151.77)"/>
<line x1="748.2" y1="148.8" x2="746.6" y2="148.8" stroke-width="1.1"/>
<rect x="745.9" y="148.1" width="1.4" height="1.4" stroke="none" transform="rotate(180 746.6 148.8)"/>
<line x1="748.96" y1="146.96" x2="747.83" y2="145.83" stroke-width="1.1"/>
<rect x="747.13" y="145.13" width="1.4" height="1.4" stroke="none" transform="rotate(225 747.83 145.83)"/>
<line x1="750.8" y1="146.2" x2="750.8" y2="144.6" stroke-width="1.1"/>
<rect x="750.1" y="143.9" width="1.4" height="1.4" stroke="none" transform="rotate(270 750.8 144.6)"/>
<line x1="752.64" y1="146.96" x2="753.77" y2="145.83" stroke-width="1.1"/>
<rect x="753.07" y="145.13" width="1.4" height="1.4" stroke="none" transform="rotate(315 753.77 145.83)"/>
</g>
<g fill="#e5e5e7" stroke="#e5e5e7">
<circle cx="767.8" cy="148.8" r="2.6" stroke="none"/>
<line x1="770.4" y1="148.8" x2="772" y2="148.8" stroke-width="1.1"/>
<rect x="771.3" y="148.1" width="1.4" height="1.4" stroke="none" transform="rotate(0 772 148.8)"/>
<line x1="769.64" y1="150.64" x2="770.77" y2="151.77" stroke-width="1.1"/>
<rect x="770.07" y="151.07" width="1.4" height="1.4" stroke="none" transform="rotate(45 770.77 151.77)"/>
<line x1="767.8" y1="151.4" x2="767.8" y2="153" stroke-width="1.1"/>
<rect x="767.1" y="152.3" width="1.4" height="1.4" stroke="none" transform="rotate(90 767.8 153)"/>
<line x1="765.96" y1="150.64" x2="764.83" y2="151.77" stroke-width="1.1"/>
<rect x="764.13" y="151.07" width="1.4" height="1.4" stroke="none" transform="rotate(135 764.83 151.77)"/>
<line x1="765.2" y1="148.8" x2="763.6" y2="148.8" stroke-width="1.1"/>
<rect x="762.9" y="148.1" width="1.4" height="1.4" stroke="none" transform="rotate(180 763.6 148.8)"/>
<line x1="765.96" y1="146.96" x2="764.83" y2="145.83" stroke-width="1.1"/>
<rect x="764.13" y="145.13" width="1.4" height="1.4" stroke="none" transform="rotate(225 764.83 145.83)"/>
<line x1="767.8" y1="146.2" x2="767.8" y2="144.6" stroke-width="1.1"/>
<rect x="767.1" y="143.9" width="1.4" height="1.4" stroke="none" transform="rotate(270 767.8 144.6)"/>
<line x1="769.64" y1="146.96" x2="770.77" y2="145.83" stroke-width="1.1"/>
<rect x="770.07" y="145.13" width="1.4" height="1.4" stroke="none" transform="rotate(315 770.77 145.83)"/>
</g>
<g fill="#e5e5e7" stroke="#e5e5e7">
<circle cx="742.3" cy="157.6" r="2.6" stroke="none"/>
<line x1="744.9" y1="157.6" x2="746.5" y2="157.6" stroke-width="1.1"/>
<rect x="745.8" y="156.9" width="1.4" height="1.4" stroke="none" transform="rotate(0 746.5 157.6)"/>
<line x1="744.14" y1="159.44" x2="745.27" y2="160.57" stroke-width="1.1"/>
<rect x="744.57" y="159.87" width="1.4" height="1.4" stroke="none" transform="rotate(45 745.27 160.57)"/>
<line x1="742.3" y1="160.2" x2="742.3" y2="161.8" stroke-width="1.1"/>
<rect x="741.6" y="161.1" width="1.4" height="1.4" stroke="none" transform="rotate(90 742.3 161.8)"/>
<line x1="740.46" y1="159.44" x2="739.33" y2="160.57" stroke-width="1.1"/>
<rect x="738.63" y="159.87" width="1.4" height="1.4" stroke="none" transform="rotate(135 739.33 160.57)"/>
<line x1="739.7" y1="157.6" x2="738.1" y2="157.6" stroke-width="1.1"/>
<rect x="737.4" y="156.9" width="1.4" height="1.4" stroke="none" transform="rotate(180 738.1 157.6)"/>
<line x1="740.46" y1="155.76" x2="739.33" y2="154.63" stroke-width="1.1"/>
<rect x="738.63" y="153.93" width="1.4" height="1.4" stroke="none" transform="rotate(225 739.33 154.63)"/>
<line x1="742.3" y1="155" x2="742.3" y2="153.4" stroke-width="1.1"/>
<rect x="741.6" y="152.7" width="1.4" height="1.4" stroke="none" transform="rotate(270 742.3 153.4)"/>
<line x1="744.14" y1="155.76" x2="745.27" y2="154.63" stroke-width="1.1"/>
<rect x="744.57" y="153.93" width="1.4" height="1.4" stroke="none" transform="rotate(315 745.27 154.63)"/>
</g>
<g fill="#e5e5e7" stroke="#e5e5e7">
<circle cx="759.3" cy="157.6" r="2.6" stroke="none"/>
<line x1="761.9" y1="157.6" x2="763.5" y2="157.6" stroke-width="1.1"/>
<rect x="762.8" y="156.9" width="1.4" height="1.4" stroke="none" transform="rotate(0 763.5 157.6)"/>
<line x1="761.14" y1="159.44" x2="762.27" y2="160.57" stroke-width="1.1"/>
<rect x="761.57" y="159.87" width="1.4" height="1.4" stroke="none" transform="rotate(45 762.27 160.57)"/>
<line x1="759.3" y1="160.2" x2="759.3" y2="161.8" stroke-width="1.1"/>
<rect x="758.6" y="161.1" width="1.4" height="1.4" stroke="none" transform="rotate(90 759.3 161.8)"/>
<line x1="757.46" y1="159.44" x2="756.33" y2="160.57" stroke-width="1.1"/>
<rect x="755.63" y="159.87" width="1.4" height="1.4" stroke="none" transform="rotate(135 756.33 160.57)"/>
<line x1="756.7" y1="157.6" x2="755.1" y2="157.6" stroke-width="1.1"/>
<rect x="754.4" y="156.9" width="1.4" height="1.4" stroke="none" transform="rotate(180 755.1 157.6)"/>
<line x1="757.46" y1="155.76" x2="756.33" y2="154.63" stroke-width="1.1"/>
<rect x="755.63" y="153.93" width="1.4" height="1.4" stroke="none" transform="rotate(225 756.33 154.63)"/>
<line x1="759.3" y1="155" x2="759.3" y2="153.4" stroke-width="1.1"/>
<rect x="758.6" y="152.7" width="1.4" height="1.4" stroke="none" transform="rotate(270 759.3 153.4)"/>
<line x1="761.14" y1="155.76" x2="762.27" y2="154.63" stroke-width="1.1"/>
<rect x="761.57" y="153.93" width="1.4" height="1.4" stroke="none" transform="rotate(315 762.27 154.63)"/>
</g>
<g fill="#e5e5e7" stroke="#e5e5e7">
<circle cx="776.3" cy="157.6" r="2.6" stroke="none"/>
<line x1="778.9" y1="157.6" x2="780.5" y2="157.6" stroke-width="1.1"/>
<rect x="779.8" y="156.9" width="1.4" height="1.4" stroke="none" transform="rotate(0 780.5 157.6)"/>
<line x1="778.14" y1="159.44" x2="779.27" y2="160.57" stroke-width="1.1"/>
<rect x="778.57" y="159.87" width="1.4" height="1.4" stroke="none" transform="rotate(45 779.27 160.57)"/>
<line x1="776.3" y1="160.2" x2="776.3" y2="161.8" stroke-width="1.1"/>
<rect x="775.6" y="161.1" width="1.4" height="1.4" stroke="none" transform="rotate(90 776.3 161.8)"/>
<line x1="774.46" y1="159.44" x2="773.33" y2="160.57" stroke-width="1.1"/>
<rect x="772.63" y="159.87" width="1.4" height="1.4" stroke="none" transform="rotate(135 773.33 160.57)"/>
<line x1="773.7" y1="157.6" x2="772.1" y2="157.6" stroke-width="1.1"/>
<rect x="771.4" y="156.9" width="1.4" height="1.4" stroke="none" transform="rotate(180 772.1 157.6)"/>
<line x1="774.46" y1="155.76" x2="773.33" y2="154.63" stroke-width="1.1"/>
<rect x="772.63" y="153.93" width="1.4" height="1.4" stroke="none" transform="rotate(225 773.33 154.63)"/>
<line x1="776.3" y1="155" x2="776.3" y2="153.4" stroke-width="1.1"/>
<rect x="775.6" y="152.7" width="1.4" height="1.4" stroke="none" transform="rotate(270 776.3 153.4)"/>
<line x1="778.14" y1="155.76" x2="779.27" y2="154.63" stroke-width="1.1"/>
<rect x="778.57" y="153.93" width="1.4" height="1.4" stroke="none" transform="rotate(315 779.27 154.63)"/>
</g>
<g fill="#e5e5e7" stroke="#e5e5e7">
<circle cx="733.8" cy="166.4" r="2.6" stroke="none"/>
<line x1="736.4" y1="166.4" x2="738" y2="166.4" stroke-width="1.1"/>
<rect x="737.3" y="165.7" width="1.4" height="1.4" stroke="none" transform="rotate(0 738 166.4)"/>
<line x1="735.64" y1="168.24" x2="736.77" y2="169.37" stroke-width="1.1"/>
<rect x="736.07" y="168.67" width="1.4" height="1.4" stroke="none" transform="rotate(45 736.77 169.37)"/>
<line x1="733.8" y1="169" x2="733.8" y2="170.6" stroke-width="1.1"/>
<rect x="733.1" y="169.9" width="1.4" height="1.4" stroke="none" transform="rotate(90 733.8 170.6)"/>
<line x1="731.96" y1="168.24" x2="730.83" y2="169.37" stroke-width="1.1"/>
<rect x="730.13" y="168.67" width="1.4" height="1.4" stroke="none" transform="rotate(135 730.83 169.37)"/>
<line x1="731.2" y1="166.4" x2="729.6" y2="166.4" stroke-width="1.1"/>
<rect x="728.9" y="165.7" width="1.4" height="1.4" stroke="none" transform="rotate(180 729.6 166.4)"/>
<line x1="731.96" y1="164.56" x2="730.83" y2="163.43" stroke-width="1.1"/>
<rect x="730.13" y="162.73" width="1.4" height="1.4" stroke="none" transform="rotate(225 730.83 163.43)"/>
<line x1="733.8" y1="163.8" x2="733.8" y2="162.2" stroke-width="1.1"/>
<rect x="733.1" y="161.5" width="1.4" height="1.4" stroke="none" transform="rotate(270 733.8 162.2)"/>
<line x1="735.64" y1="164.56" x2="736.77" y2="163.43" stroke-width="1.1"/>
<rect x="736.07" y="162.73" width="1.4" height="1.4" stroke="none" transform="rotate(315 736.77 163.43)"/>
</g>
<g fill="#e5e5e7" stroke="#e5e5e7">
<circle cx="750.8" cy="166.4" r="2.6" stroke="none"/>
<line x1="753.4" y1="166.4" x2="755" y2="166.4" stroke-width="1.1"/>
<rect x="754.3" y="165.7" width="1.4" height="1.4" stroke="none" transform="rotate(0 755 166.4)"/>
<line x1="752.64" y1="168.24" x2="753.77" y2="169.37" stroke-width="1.1"/>
<rect x="753.07" y="168.67" width="1.4" height="1.4" stroke="none" transform="rotate(45 753.77 169.37)"/>
<line x1="750.8" y1="169" x2="750.8" y2="170.6" stroke-width="1.1"/>
<rect x="750.1" y="169.9" width="1.4" height="1.4" stroke="none" transform="rotate(90 750.8 170.6)"/>
<line x1="748.96" y1="168.24" x2="747.83" y2="169.37" stroke-width="1.1"/>
<rect x="747.13" y="168.67" width="1.4" height="1.4" stroke="none" transform="rotate(135 747.83 169.37)"/>
<line x1="748.2" y1="166.4" x2="746.6" y2="166.4" stroke-width="1.1"/>
<rect x="745.9" y="165.7" width="1.4" height="1.4" stroke="none" transform="rotate(180 746.6 166.4)"/>
<line x1="748.96" y1="164.56" x2="747.83" y2="163.43" stroke-width="1.1"/>
<rect x="747.13" y="162.73" width="1.4" height="1.4" stroke="none" transform="rotate(225 747.83 163.43)"/>
<line x1="750.8" y1="163.8" x2="750.8" y2="162.2" stroke-width="1.1"/>
<rect x="750.1" y="161.5" width="1.4" height="1.4" stroke="none" transform="rotate(270 750.8 162.2)"/>
<line x1="752.64" y1="164.56" x2="753.77" y2="163.43" stroke-width="1.1"/>
<rect x="753.07" y="162.73" width="1.4" height="1.4" stroke="none" transform="rotate(315 753.77 163.43)"/>
</g>
<g fill="#e5e5e7" stroke="#e5e5e7">
<circle cx="767.8" cy="166.4" r="2.6" stroke="none"/>
<line x1="770.4" y1="166.4" x2="772" y2="166.4" stroke-width="1.1"/>
<rect x="771.3" y="165.7" width="1.4" height="1.4" stroke="none" transform="rotate(0 772 166.4)"/>
<line x1="769.64" y1="168.24" x2="770.77" y2="169.37" stroke-width="1.1"/>
<rect x="770.07" y="168.67" width="1.4" height="1.4" stroke="none" transform="rotate(45 770.77 169.37)"/>
<line x1="767.8" y1="169" x2="767.8" y2="170.6" stroke-width="1.1"/>
<rect x="767.1" y="169.9" width="1.4" height="1.4" stroke="none" transform="rotate(90 767.8 170.6)"/>
<line x1="765.96" y1="168.24" x2="764.83" y2="169.37" stroke-width="1.1"/>
<rect x="764.13" y="168.67" width="1.4" height="1.4" stroke="none" transform="rotate(135 764.83 169.37)"/>
<line x1="765.2" y1="166.4" x2="763.6" y2="166.4" stroke-width="1.1"/>
<rect x="762.9" y="165.7" width="1.4" height="1.4" stroke="none" transform="rotate(180 763.6 166.4)"/>
<line x1="765.96" y1="164.56" x2="764.83" y2="163.43" stroke-width="1.1"/>
<rect x="764.13" y="162.73" width="1.4" height="1.4" stroke="none" transform="rotate(225 764.83 163.43)"/>
<line x1="767.8" y1="163.8" x2="767.8" y2="162.2" stroke-width="1.1"/>
<rect x="767.1" y="161.5" width="1.4" height="1.4" stroke="none" transform="rotate(270 767.8 162.2)"/>
<line x1="769.64" y1="164.56" x2="770.77" y2="163.43" stroke-width="1.1"/>
<rect x="770.07" y="162.73" width="1.4" height="1.4" stroke="none" transform="rotate(315 770.77 163.43)"/>
</g>
<g fill="#e5e5e7" stroke="#e5e5e7">
<circle cx="784.8" cy="166.4" r="2.6" stroke="none"/>
<line x1="787.4" y1="166.4" x2="789" y2="166.4" stroke-width="1.1"/>
<rect x="788.3" y="165.7" width="1.4" height="1.4" stroke="none" transform="rotate(0 789 166.4)"/>
<line x1="786.64" y1="168.24" x2="787.77" y2="169.37" stroke-width="1.1"/>
<rect x="787.07" y="168.67" width="1.4" height="1.4" stroke="none" transform="rotate(45 787.77 169.37)"/>
<line x1="784.8" y1="169" x2="784.8" y2="170.6" stroke-width="1.1"/>
<rect x="784.1" y="169.9" width="1.4" height="1.4" stroke="none" transform="rotate(90 784.8 170.6)"/>
<line x1="782.96" y1="168.24" x2="781.83" y2="169.37" stroke-width="1.1"/>
<rect x="781.13" y="168.67" width="1.4" height="1.4" stroke="none" transform="rotate(135 781.83 169.37)"/>
<line x1="782.2" y1="166.4" x2="780.6" y2="166.4" stroke-width="1.1"/>
<rect x="779.9" y="165.7" width="1.4" height="1.4" stroke="none" transform="rotate(180 780.6 166.4)"/>
<line x1="782.96" y1="164.56" x2="781.83" y2="163.43" stroke-width="1.1"/>
<rect x="781.13" y="162.73" width="1.4" height="1.4" stroke="none" transform="rotate(225 781.83 163.43)"/>
<line x1="784.8" y1="163.8" x2="784.8" y2="162.2" stroke-width="1.1"/>
<rect x="784.1" y="161.5" width="1.4" height="1.4" stroke="none" transform="rotate(270 784.8 162.2)"/>
<line x1="786.64" y1="164.56" x2="787.77" y2="163.43" stroke-width="1.1"/>
<rect x="787.07" y="162.73" width="1.4" height="1.4" stroke="none" transform="rotate(315 787.77 163.43)"/>
</g>
<g fill="#e5e5e7" stroke="#e5e5e7">
<circle cx="725.3" cy="175.2" r="2.6" stroke="none"/>
<line x1="727.9" y1="175.2" x2="729.5" y2="175.2" stroke-width="1.1"/>
<rect x="728.8" y="174.5" width="1.4" height="1.4" stroke="none" transform="rotate(0 729.5 175.2)"/>
<line x1="727.14" y1="177.04" x2="728.27" y2="178.17" stroke-width="1.1"/>
<rect x="727.57" y="177.47" width="1.4" height="1.4" stroke="none" transform="rotate(45 728.27 178.17)"/>
<line x1="725.3" y1="177.8" x2="725.3" y2="179.4" stroke-width="1.1"/>
<rect x="724.6" y="178.7" width="1.4" height="1.4" stroke="none" transform="rotate(90 725.3 179.4)"/>
<line x1="723.46" y1="177.04" x2="722.33" y2="178.17" stroke-width="1.1"/>
<rect x="721.63" y="177.47" width="1.4" height="1.4" stroke="none" transform="rotate(135 722.33 178.17)"/>
<line x1="722.7" y1="175.2" x2="721.1" y2="175.2" stroke-width="1.1"/>
<rect x="720.4" y="174.5" width="1.4" height="1.4" stroke="none" transform="rotate(180 721.1 175.2)"/>
<line x1="723.46" y1="173.36" x2="722.33" y2="172.23" stroke-width="1.1"/>
<rect x="721.63" y="171.53" width="1.4" height="1.4" stroke="none" transform="rotate(225 722.33 172.23)"/>
<line x1="725.3" y1="172.6" x2="725.3" y2="171" stroke-width="1.1"/>
<rect x="724.6" y="170.3" width="1.4" height="1.4" stroke="none" transform="rotate(270 725.3 171)"/>
<line x1="727.14" y1="173.36" x2="728.27" y2="172.23" stroke-width="1.1"/>
<rect x="727.57" y="171.53" width="1.4" height="1.4" stroke="none" transform="rotate(315 728.27 172.23)"/>
</g>
<g fill="#e5e5e7" stroke="#e5e5e7">
<circle cx="742.3" cy="175.2" r="2.6" stroke="none"/>
<line x1="744.9" y1="175.2" x2="746.5" y2="175.2" stroke-width="1.1"/>
<rect x="745.8" y="174.5" width="1.4" height="1.4" stroke="none" transform="rotate(0 746.5 175.2)"/>
<line x1="744.14" y1="177.04" x2="745.27" y2="178.17" stroke-width="1.1"/>
<rect x="744.57" y="177.47" width="1.4" height="1.4" stroke="none" transform="rotate(45 745.27 178.17)"/>
<line x1="742.3" y1="177.8" x2="742.3" y2="179.4" stroke-width="1.1"/>
<rect x="741.6" y="178.7" width="1.4" height="1.4" stroke="none" transform="rotate(90 742.3 179.4)"/>
<line x1="740.46" y1="177.04" x2="739.33" y2="178.17" stroke-width="1.1"/>
<rect x="738.63" y="177.47" width="1.4" height="1.4" stroke="none" transform="rotate(135 739.33 178.17)"/>
<line x1="739.7" y1="175.2" x2="738.1" y2="175.2" stroke-width="1.1"/>
<rect x="737.4" y="174.5" width="1.4" height="1.4" stroke="none" transform="rotate(180 738.1 175.2)"/>
<line x1="740.46" y1="173.36" x2="739.33" y2="172.23" stroke-width="1.1"/>
<rect x="738.63" y="171.53" width="1.4" height="1.4" stroke="none" transform="rotate(225 739.33 172.23)"/>
<line x1="742.3" y1="172.6" x2="742.3" y2="171" stroke-width="1.1"/>
<rect x="741.6" y="170.3" width="1.4" height="1.4" stroke="none" transform="rotate(270 742.3 171)"/>
<line x1="744.14" y1="173.36" x2="745.27" y2="172.23" stroke-width="1.1"/>
<rect x="744.57" y="171.53" width="1.4" height="1.4" stroke="none" transform="rotate(315 745.27 172.23)"/>
</g>
<g fill="#e5e5e7" stroke="#e5e5e7">
<circle cx="759.3" cy="175.2" r="2.6" stroke="none"/>
<line x1="761.9" y1="175.2" x2="763.5" y2="175.2" stroke-width="1.1"/>
<rect x="762.8" y="174.5" width="1.4" height="1.4" stroke="none" transform="rotate(0 763.5 175.2)"/>
<line x1="761.14" y1="177.04" x2="762.27" y2="178.17" stroke-width="1.1"/>
<rect x="761.57" y="177.47" width="1.4" height="1.4" stroke="none" transform="rotate(45 762.27 178.17)"/>
<line x1="759.3" y1="177.8" x2="759.3" y2="179.4" stroke-width="1.1"/>
<rect x="758.6" y="178.7" width="1.4" height="1.4" stroke="none" transform="rotate(90 759.3 179.4)"/>
<line x1="757.46" y1="177.04" x2="756.33" y2="178.17" stroke-width="1.1"/>
<rect x="755.63" y="177.47" width="1.4" height="1.4" stroke="none" transform="rotate(135 756.33 178.17)"/>
<line x1="756.7" y1="175.2" x2="755.1" y2="175.2" stroke-width="1.1"/>
<rect x="754.4" y="174.5" width="1.4" height="1.4" stroke="none" transform="rotate(180 755.1 175.2)"/>
<line x1="757.46" y1="173.36" x2="756.33" y2="172.23" stroke-width="1.1"/>
<rect x="755.63" y="171.53" width="1.4" height="1.4" stroke="none" transform="rotate(225 756.33 172.23)"/>
<line x1="759.3" y1="172.6" x2="759.3" y2="171" stroke-width="1.1"/>
<rect x="758.6" y="170.3" width="1.4" height="1.4" stroke="none" transform="rotate(270 759.3 171)"/>
<line x1="761.14" y1="173.36" x2="762.27" y2="172.23" stroke-width="1.1"/>
<rect x="761.57" y="171.53" width="1.4" height="1.4" stroke="none" transform="rotate(315 762.27 172.23)"/>
</g>
<g fill="#e5e5e7" stroke="#e5e5e7">
<circle cx="776.3" cy="175.2" r="2.6" stroke="none"/>
<line x1="778.9" y1="175.2" x2="780.5" y2="175.2" stroke-width="1.1"/>
<rect x="779.8" y="174.5" width="1.4" height="1.4" stroke="none" transform="rotate(0 780.5 175.2)"/>
<line x1="778.14" y1="177.04" x2="779.27" y2="178.17" stroke-width="1.1"/>
<rect x="778.57" y="177.47" width="1.4" height="1.4" stroke="none" transform="rotate(45 779.27 178.17)"/>
<line x1="776.3" y1="177.8" x2="776.3" y2="179.4" stroke-width="1.1"/>
<rect x="775.6" y="178.7" width="1.4" height="1.4" stroke="none" transform="rotate(90 776.3 179.4)"/>
<line x1="774.46" y1="177.04" x2="773.33" y2="178.17" stroke-width="1.1"/>
<rect x="772.63" y="177.47" width="1.4" height="1.4" stroke="none" transform="rotate(135 773.33 178.17)"/>
<line x1="773.7" y1="175.2" x2="772.1" y2="175.2" stroke-width="1.1"/>
<rect x="771.4" y="174.5" width="1.4" height="1.4" stroke="none" transform="rotate(180 772.1 175.2)"/>
<line x1="774.46" y1="173.36" x2="773.33" y2="172.23" stroke-width="1.1"/>
<rect x="772.63" y="171.53" width="1.4" height="1.4" stroke="none" transform="rotate(225 773.33 172.23)"/>
<line x1="776.3" y1="172.6" x2="776.3" y2="171" stroke-width="1.1"/>
<rect x="775.6" y="170.3" width="1.4" height="1.4" stroke="none" transform="rotate(270 776.3 171)"/>
<line x1="778.14" y1="173.36" x2="779.27" y2="172.23" stroke-width="1.1"/>
<rect x="778.57" y="171.53" width="1.4" height="1.4" stroke="none" transform="rotate(315 779.27 172.23)"/>
</g>
<g fill="#e5e5e7" stroke="#e5e5e7">
<circle cx="793.3" cy="175.2" r="2.6" stroke="none"/>
<line x1="795.9" y1="175.2" x2="797.5" y2="175.2" stroke-width="1.1"/>
<rect x="796.8" y="174.5" width="1.4" height="1.4" stroke="none" transform="rotate(0 797.5 175.2)"/>
<line x1="795.14" y1="177.04" x2="796.27" y2="178.17" stroke-width="1.1"/>
<rect x="795.57" y="177.47" width="1.4" height="1.4" stroke="none" transform="rotate(45 796.27 178.17)"/>
<line x1="793.3" y1="177.8" x2="793.3" y2="179.4" stroke-width="1.1"/>
<rect x="792.6" y="178.7" width="1.4" height="1.4" stroke="none" transform="rotate(90 793.3 179.4)"/>
<line x1="791.46" y1="177.04" x2="790.33" y2="178.17" stroke-width="1.1"/>
<rect x="789.63" y="177.47" width="1.4" height="1.4" stroke="none" transform="rotate(135 790.33 178.17)"/>
<line x1="790.7" y1="175.2" x2="789.1" y2="175.2" stroke-width="1.1"/>
<rect x="788.4" y="174.5" width="1.4" height="1.4" stroke="none" transform="rotate(180 789.1 175.2)"/>
<line x1="791.46" y1="173.36" x2="790.33" y2="172.23" stroke-width="1.1"/>
<rect x="789.63" y="171.53" width="1.4" height="1.4" stroke="none" transform="rotate(225 790.33 172.23)"/>
<line x1="793.3" y1="172.6" x2="793.3" y2="171" stroke-width="1.1"/>
<rect x="792.6" y="170.3" width="1.4" height="1.4" stroke="none" transform="rotate(270 793.3 171)"/>
<line x1="795.14" y1="173.36" x2="796.27" y2="172.23" stroke-width="1.1"/>
<rect x="795.57" y="171.53" width="1.4" height="1.4" stroke="none" transform="rotate(315 796.27 172.23)"/>
</g>
<g fill="#e5e5e7" stroke="#e5e5e7">
<circle cx="733.8" cy="184" r="2.6" stroke="none"/>
<line x1="736.4" y1="184" x2="738" y2="184" stroke-width="1.1"/>
<rect x="737.3" y="183.3" width="1.4" height="1.4" stroke="none" transform="rotate(0 738 184)"/>
<line x1="735.64" y1="185.84" x2="736.77" y2="186.97" stroke-width="1.1"/>
<rect x="736.07" y="186.27" width="1.4" height="1.4" stroke="none" transform="rotate(45 736.77 186.97)"/>
<line x1="733.8" y1="186.6" x2="733.8" y2="188.2" stroke-width="1.1"/>
<rect x="733.1" y="187.5" width="1.4" height="1.4" stroke="none" transform="rotate(90 733.8 188.2)"/>
<line x1="731.96" y1="185.84" x2="730.83" y2="186.97" stroke-width="1.1"/>
<rect x="730.13" y="186.27" width="1.4" height="1.4" stroke="none" transform="rotate(135 730.83 186.97)"/>
<line x1="731.2" y1="184" x2="729.6" y2="184" stroke-width="1.1"/>
<rect x="728.9" y="183.3" width="1.4" height="1.4" stroke="none" transform="rotate(180 729.6 184)"/>
<line x1="731.96" y1="182.16" x2="730.83" y2="181.03" stroke-width="1.1"/>
<rect x="730.13" y="180.33" width="1.4" height="1.4" stroke="none" transform="rotate(225 730.83 181.03)"/>
<line x1="733.8" y1="181.4" x2="733.8" y2="179.8" stroke-width="1.1"/>
<rect x="733.1" y="179.1" width="1.4" height="1.4" stroke="none" transform="rotate(270 733.8 179.8)"/>
<line x1="735.64" y1="182.16" x2="736.77" y2="181.03" stroke-width="1.1"/>
<rect x="736.07" y="180.33" width="1.4" height="1.4" stroke="none" transform="rotate(315 736.77 181.03)"/>
</g>
<g fill="#e5e5e7" stroke="#e5e5e7">
<circle cx="750.8" cy="184" r="2.6" stroke="none"/>
<line x1="753.4" y1="184" x2="755" y2="184" stroke-width="1.1"/>
<rect x="754.3" y="183.3" width="1.4" height="1.4" stroke="none" transform="rotate(0 755 184)"/>
<line x1="752.64" y1="185.84" x2="753.77" y2="186.97" stroke-width="1.1"/>
<rect x="753.07" y="186.27" width="1.4" height="1.4" stroke="none" transform="rotate(45 753.77 186.97)"/>
<line x1="750.8" y1="186.6" x2="750.8" y2="188.2" stroke-width="1.1"/>
<rect x="750.1" y="187.5" width="1.4" height="1.4" stroke="none" transform="rotate(90 750.8 188.2)"/>
<line x1="748.96" y1="185.84" x2="747.83" y2="186.97" stroke-width="1.1"/>
<rect x="747.13" y="186.27" width="1.4" height="1.4" stroke="none" transform="rotate(135 747.83 186.97)"/>
<line x1="748.2" y1="184" x2="746.6" y2="184" stroke-width="1.1"/>
<rect x="745.9" y="183.3" width="1.4" height="1.4" stroke="none" transform="rotate(180 746.6 184)"/>
<line x1="748.96" y1="182.16" x2="747.83" y2="181.03" stroke-width="1.1"/>
<rect x="747.13" y="180.33" width="1.4" height="1.4" stroke="none" transform="rotate(225 747.83 181.03)"/>
<line x1="750.8" y1="181.4" x2="750.8" y2="179.8" stroke-width="1.1"/>
<rect x="750.1" y="179.1" width="1.4" height="1.4" stroke="none" transform="rotate(270 750.8 179.8)"/>
<line x1="752.64" y1="182.16" x2="753.77" y2="181.03" stroke-width="1.1"/>
<rect x="753.07" y="180.33" width="1.4" height="1.4" stroke="none" transform="rotate(315 753.77 181.03)"/>
</g>
<g fill="#e5e5e7" stroke="#e5e5e7">
<circle cx="767.8" cy="184" r="2.6" stroke="none"/>
<line x1="770.4" y1="184" x2="772" y2="184" stroke-width="1.1"/>
<rect x="771.3" y="183.3" width="1.4" height="1.4" stroke="none" transform="rotate(0 772 184)"/>
<line x1="769.64" y1="185.84" x2="770.77" y2="186.97" stroke-width="1.1"/>
<rect x="770.07" y="186.27" width="1.4" height="1.4" stroke="none" transform="rotate(45 770.77 186.97)"/>
<line x1="767.8" y1="186.6" x2="767.8" y2="188.2" stroke-width="1.1"/>
<rect x="767.1" y="187.5" width="1.4" height="1.4" stroke="none" transform="rotate(90 767.8 188.2)"/>
<line x1="765.96" y1="185.84" x2="764.83" y2="186.97" stroke-width="1.1"/>
<rect x="764.13" y="186.27" width="1.4" height="1.4" stroke="none" transform="rotate(135 764.83 186.97)"/>
<line x1="765.2" y1="184" x2="763.6" y2="184" stroke-width="1.1"/>
<rect x="762.9" y="183.3" width="1.4" height="1.4" stroke="none" transform="rotate(180 763.6 184)"/>
<line x1="765.96" y1="182.16" x2="764.83" y2="181.03" stroke-width="1.1"/>
<rect x="764.13" y="180.33" width="1.4" height="1.4" stroke="none" transform="rotate(225 764.83 181.03)"/>
<line x1="767.8" y1="181.4" x2="767.8" y2="179.8" stroke-width="1.1"/>
<rect x="767.1" y="179.1" width="1.4" height="1.4" stroke="none" transform="rotate(270 767.8 179.8)"/>
<line x1="769.64" y1="182.16" x2="770.77" y2="181.03" stroke-width="1.1"/>
<rect x="770.07" y="180.33" width="1.4" height="1.4" stroke="none" transform="rotate(315 770.77 181.03)"/>
</g>
<g fill="#e5e5e7" stroke="#e5e5e7">
<circle cx="784.8" cy="184" r="2.6" stroke="none"/>
<line x1="787.4" y1="184" x2="789" y2="184" stroke-width="1.1"/>
<rect x="788.3" y="183.3" width="1.4" height="1.4" stroke="none" transform="rotate(0 789 184)"/>
<line x1="786.64" y1="185.84" x2="787.77" y2="186.97" stroke-width="1.1"/>
<rect x="787.07" y="186.27" width="1.4" height="1.4" stroke="none" transform="rotate(45 787.77 186.97)"/>
<line x1="784.8" y1="186.6" x2="784.8" y2="188.2" stroke-width="1.1"/>
<rect x="784.1" y="187.5" width="1.4" height="1.4" stroke="none" transform="rotate(90 784.8 188.2)"/>
<line x1="782.96" y1="185.84" x2="781.83" y2="186.97" stroke-width="1.1"/>
<rect x="781.13" y="186.27" width="1.4" height="1.4" stroke="none" transform="rotate(135 781.83 186.97)"/>
<line x1="782.2" y1="184" x2="780.6" y2="184" stroke-width="1.1"/>
<rect x="779.9" y="183.3" width="1.4" height="1.4" stroke="none" transform="rotate(180 780.6 184)"/>
<line x1="782.96" y1="182.16" x2="781.83" y2="181.03" stroke-width="1.1"/>
<rect x="781.13" y="180.33" width="1.4" height="1.4" stroke="none" transform="rotate(225 781.83 181.03)"/>
<line x1="784.8" y1="181.4" x2="784.8" y2="179.8" stroke-width="1.1"/>
<rect x="784.1" y="179.1" width="1.4" height="1.4" stroke="none" transform="rotate(270 784.8 179.8)"/>
<line x1="786.64" y1="182.16" x2="787.77" y2="181.03" stroke-width="1.1"/>
<rect x="787.07" y="180.33" width="1.4" height="1.4" stroke="none" transform="rotate(315 787.77 181.03)"/>
</g>
<g fill="#e5e5e7" stroke="#e5e5e7">
<circle cx="725.3" cy="192.8" r="2.6" stroke="none"/>
<line x1="727.9" y1="192.8" x2="729.5" y2="192.8" stroke-width="1.1"/>
<rect x="728.8" y="192.1" width="1.4" height="1.4" stroke="none" transform="rotate(0 729.5 192.8)"/>
<line x1="727.14" y1="194.64" x2="728.27" y2="195.77" stroke-width="1.1"/>
<rect x="727.57" y="195.07" width="1.4" height="1.4" stroke="none" transform="rotate(45 728.27 195.77)"/>
<line x1="725.3" y1="195.4" x2="725.3" y2="197" stroke-width="1.1"/>
<rect x="724.6" y="196.3" width="1.4" height="1.4" stroke="none" transform="rotate(90 725.3 197)"/>
<line x1="723.46" y1="194.64" x2="722.33" y2="195.77" stroke-width="1.1"/>
<rect x="721.63" y="195.07" width="1.4" height="1.4" stroke="none" transform="rotate(135 722.33 195.77)"/>
<line x1="722.7" y1="192.8" x2="721.1" y2="192.8" stroke-width="1.1"/>
<rect x="720.4" y="192.1" width="1.4" height="1.4" stroke="none" transform="rotate(180 721.1 192.8)"/>
<line x1="723.46" y1="190.96" x2="722.33" y2="189.83" stroke-width="1.1"/>
<rect x="721.63" y="189.13" width="1.4" height="1.4" stroke="none" transform="rotate(225 722.33 189.83)"/>
<line x1="725.3" y1="190.2" x2="725.3" y2="188.6" stroke-width="1.1"/>
<rect x="724.6" y="187.9" width="1.4" height="1.4" stroke="none" transform="rotate(270 725.3 188.6)"/>
<line x1="727.14" y1="190.96" x2="728.27" y2="189.83" stroke-width="1.1"/>
<rect x="727.57" y="189.13" width="1.4" height="1.4" stroke="none" transform="rotate(315 728.27 189.83)"/>
</g>
<g fill="#e5e5e7" stroke="#e5e5e7">
<circle cx="742.3" cy="192.8" r="2.6" stroke="none"/>
<line x1="744.9" y1="192.8" x2="746.5" y2="192.8" stroke-width="1.1"/>
<rect x="745.8" y="192.1" width="1.4" height="1.4" stroke="none" transform="rotate(0 746.5 192.8)"/>
<line x1="744.14" y1="194.64" x2="745.27" y2="195.77" stroke-width="1.1"/>
<rect x="744.57" y="195.07" width="1.4" height="1.4" stroke="none" transform="rotate(45 745.27 195.77)"/>
<line x1="742.3" y1="195.4" x2="742.3" y2="197" stroke-width="1.1"/>
<rect x="741.6" y="196.3" width="1.4" height="1.4" stroke="none" transform="rotate(90 742.3 197)"/>
<line x1="740.46" y1="194.64" x2="739.33" y2="195.77" stroke-width="1.1"/>
<rect x="738.63" y="195.07" width="1.4" height="1.4" stroke="none" transform="rotate(135 739.33 195.77)"/>
<line x1="739.7" y1="192.8" x2="738.1" y2="192.8" stroke-width="1.1"/>
<rect x="737.4" y="192.1" width="1.4" height="1.4" stroke="none" transform="rotate(180 738.1 192.8)"/>
<line x1="740.46" y1="190.96" x2="739.33" y2="189.83" stroke-width="1.1"/>
<rect x="738.63" y="189.13" width="1.4" height="1.4" stroke="none" transform="rotate(225 739.33 189.83)"/>
<line x1="742.3" y1="190.2" x2="742.3" y2="188.6" stroke-width="1.1"/>
<rect x="741.6" y="187.9" width="1.4" height="1.4" stroke="none" transform="rotate(270 742.3 188.6)"/>
<line x1="744.14" y1="190.96" x2="745.27" y2="189.83" stroke-width="1.1"/>
<rect x="744.57" y="189.13" width="1.4" height="1.4" stroke="none" transform="rotate(315 745.27 189.83)"/>
</g>
<g fill="#e5e5e7" stroke="#e5e5e7">
<circle cx="759.3" cy="192.8" r="2.6" stroke="none"/>
<line x1="761.9" y1="192.8" x2="763.5" y2="192.8" stroke-width="1.1"/>
<rect x="762.8" y="192.1" width="1.4" height="1.4" stroke="none" transform="rotate(0 763.5 192.8)"/>
<line x1="761.14" y1="194.64" x2="762.27" y2="195.77" stroke-width="1.1"/>
<rect x="761.57" y="195.07" width="1.4" height="1.4" stroke="none" transform="rotate(45 762.27 195.77)"/>
<line x1="759.3" y1="195.4" x2="759.3" y2="197" stroke-width="1.1"/>
<rect x="758.6" y="196.3" width="1.4" height="1.4" stroke="none" transform="rotate(90 759.3 197)"/>
<line x1="757.46" y1="194.64" x2="756.33" y2="195.77" stroke-width="1.1"/>
<rect x="755.63" y="195.07" width="1.4" height="1.4" stroke="none" transform="rotate(135 756.33 195.77)"/>
<line x1="756.7" y1="192.8" x2="755.1" y2="192.8" stroke-width="1.1"/>
<rect x="754.4" y="192.1" width="1.4" height="1.4" stroke="none" transform="rotate(180 755.1 192.8)"/>
<line x1="757.46" y1="190.96" x2="756.33" y2="189.83" stroke-width="1.1"/>
<rect x="755.63" y="189.13" width="1.4" height="1.4" stroke="none" transform="rotate(225 756.33 189.83)"/>
<line x1="759.3" y1="190.2" x2="759.3" y2="188.6" stroke-width="1.1"/>
<rect x="758.6" y="187.9" width="1.4" height="1.4" stroke="none" transform="rotate(270 759.3 188.6)"/>
<line x1="761.14" y1="190.96" x2="762.27" y2="189.83" stroke-width="1.1"/>
<rect x="761.57" y="189.13" width="1.4" height="1.4" stroke="none" transform="rotate(315 762.27 189.83)"/>
</g>
<g fill="#e5e5e7" stroke="#e5e5e7">
<circle cx="776.3" cy="192.8" r="2.6" stroke="none"/>
<line x1="778.9" y1="192.8" x2="780.5" y2="192.8" stroke-width="1.1"/>
<rect x="779.8" y="192.1" width="1.4" height="1.4" stroke="none" transform="rotate(0 780.5 192.8)"/>
<line x1="778.14" y1="194.64" x2="779.27" y2="195.77" stroke-width="1.1"/>
<rect x="778.57" y="195.07" width="1.4" height="1.4" stroke="none" transform="rotate(45 779.27 195.77)"/>
<line x1="776.3" y1="195.4" x2="776.3" y2="197" stroke-width="1.1"/>
<rect x="775.6" y="196.3" width="1.4" height="1.4" stroke="none" transform="rotate(90 776.3 197)"/>
<line x1="774.46" y1="194.64" x2="773.33" y2="195.77" stroke-width="1.1"/>
<rect x="772.63" y="195.07" width="1.4" height="1.4" stroke="none" transform="rotate(135 773.33 195.77)"/>
<line x1="773.7" y1="192.8" x2="772.1" y2="192.8" stroke-width="1.1"/>
<rect x="771.4" y="192.1" width="1.4" height="1.4" stroke="none" transform="rotate(180 772.1 192.8)"/>
<line x1="774.46" y1="190.96" x2="773.33" y2="189.83" stroke-width="1.1"/>
<rect x="772.63" y="189.13" width="1.4" height="1.4" stroke="none" transform="rotate(225 773.33 189.83)"/>
<line x1="776.3" y1="190.2" x2="776.3" y2="188.6" stroke-width="1.1"/>
<rect x="775.6" y="187.9" width="1.4" height="1.4" stroke="none" transform="rotate(270 776.3 188.6)"/>
<line x1="778.14" y1="190.96" x2="779.27" y2="189.83" stroke-width="1.1"/>
<rect x="778.57" y="189.13" width="1.4" height="1.4" stroke="none" transform="rotate(315 779.27 189.83)"/>
</g>
<g fill="#e5e5e7" stroke="#e5e5e7">
<circle cx="793.3" cy="192.8" r="2.6" stroke="none"/>
<line x1="795.9" y1="192.8" x2="797.5" y2="192.8" stroke-width="1.1"/>
<rect x="796.8" y="192.1" width="1.4" height="1.4" stroke="none" transform="rotate(0 797.5 192.8)"/>
<line x1="795.14" y1="194.64" x2="796.27" y2="195.77" stroke-width="1.1"/>
<rect x="795.57" y="195.07" width="1.4" height="1.4" stroke="none" transform="rotate(45 796.27 195.77)"/>
<line x1="793.3" y1="195.4" x2="793.3" y2="197" stroke-width="1.1"/>
<rect x="792.6" y="196.3" width="1.4" height="1.4" stroke="none" transform="rotate(90 793.3 197)"/>
<line x1="791.46" y1="194.64" x2="790.33" y2="195.77" stroke-width="1.1"/>
<rect x="789.63" y="195.07" width="1.4" height="1.4" stroke="none" transform="rotate(135 790.33 195.77)"/>
<line x1="790.7" y1="192.8" x2="789.1" y2="192.8" stroke-width="1.1"/>
<rect x="788.4" y="192.1" width="1.4" height="1.4" stroke="none" transform="rotate(180 789.1 192.8)"/>
<line x1="791.46" y1="190.96" x2="790.33" y2="189.83" stroke-width="1.1"/>
<rect x="789.63" y="189.13" width="1.4" height="1.4" stroke="none" transform="rotate(225 790.33 189.83)"/>
<line x1="793.3" y1="190.2" x2="793.3" y2="188.6" stroke-width="1.1"/>
<rect x="792.6" y="187.9" width="1.4" height="1.4" stroke="none" transform="rotate(270 793.3 188.6)"/>
<line x1="795.14" y1="190.96" x2="796.27" y2="189.83" stroke-width="1.1"/>
<rect x="795.57" y="189.13" width="1.4" height="1.4" stroke="none" transform="rotate(315 796.27 189.83)"/>
</g>
<g fill="#e5e5e7" stroke="#e5e5e7">
<circle cx="733.8" cy="201.6" r="2.6" stroke="none"/>
<line x1="736.4" y1="201.6" x2="738" y2="201.6" stroke-width="1.1"/>
<rect x="737.3" y="200.9" width="1.4" height="1.4" stroke="none" transform="rotate(0 738 201.6)"/>
<line x1="735.64" y1="203.44" x2="736.77" y2="204.57" stroke-width="1.1"/>
<rect x="736.07" y="203.87" width="1.4" height="1.4" stroke="none" transform="rotate(45 736.77 204.57)"/>
<line x1="733.8" y1="204.2" x2="733.8" y2="205.8" stroke-width="1.1"/>
<rect x="733.1" y="205.1" width="1.4" height="1.4" stroke="none" transform="rotate(90 733.8 205.8)"/>
<line x1="731.96" y1="203.44" x2="730.83" y2="204.57" stroke-width="1.1"/>
<rect x="730.13" y="203.87" width="1.4" height="1.4" stroke="none" transform="rotate(135 730.83 204.57)"/>
<line x1="731.2" y1="201.6" x2="729.6" y2="201.6" stroke-width="1.1"/>
<rect x="728.9" y="200.9" width="1.4" height="1.4" stroke="none" transform="rotate(180 729.6 201.6)"/>
<line x1="731.96" y1="199.76" x2="730.83" y2="198.63" stroke-width="1.1"/>
<rect x="730.13" y="197.93" width="1.4" height="1.4" stroke="none" transform="rotate(225 730.83 198.63)"/>
<line x1="733.8" y1="199" x2="733.8" y2="197.4" stroke-width="1.1"/>
<rect x="733.1" y="196.7" width="1.4" height="1.4" stroke="none" transform="rotate(270 733.8 197.4)"/>
<line x1="735.64" y1="199.76" x2="736.77" y2="198.63" stroke-width="1.1"/>
<rect x="736.07" y="197.93" width="1.4" height="1.4" stroke="none" transform="rotate(315 736.77 198.63)"/>
</g>
<g fill="#e5e5e7" stroke="#e5e5e7">
<circle cx="750.8" cy="201.6" r="2.6" stroke="none"/>
<line x1="753.4" y1="201.6" x2="755" y2="201.6" stroke-width="1.1"/>
<rect x="754.3" y="200.9" width="1.4" height="1.4" stroke="none" transform="rotate(0 755 201.6)"/>
<line x1="752.64" y1="203.44" x2="753.77" y2="204.57" stroke-width="1.1"/>
<rect x="753.07" y="203.87" width="1.4" height="1.4" stroke="none" transform="rotate(45 753.77 204.57)"/>
<line x1="750.8" y1="204.2" x2="750.8" y2="205.8" stroke-width="1.1"/>
<rect x="750.1" y="205.1" width="1.4" height="1.4" stroke="none" transform="rotate(90 750.8 205.8)"/>
<line x1="748.96" y1="203.44" x2="747.83" y2="204.57" stroke-width="1.1"/>
<rect x="747.13" y="203.87" width="1.4" height="1.4" stroke="none" transform="rotate(135 747.83 204.57)"/>
<line x1="748.2" y1="201.6" x2="746.6" y2="201.6" stroke-width="1.1"/>
<rect x="745.9" y="200.9" width="1.4" height="1.4" stroke="none" transform="rotate(180 746.6 201.6)"/>
<line x1="748.96" y1="199.76" x2="747.83" y2="198.63" stroke-width="1.1"/>
<rect x="747.13" y="197.93" width="1.4" height="1.4" stroke="none" transform="rotate(225 747.83 198.63)"/>
<line x1="750.8" y1="199" x2="750.8" y2="197.4" stroke-width="1.1"/>
<rect x="750.1" y="196.7" width="1.4" height="1.4" stroke="none" transform="rotate(270 750.8 197.4)"/>
<line x1="752.64" y1="199.76" x2="753.77" y2="198.63" stroke-width="1.1"/>
<rect x="753.07" y="197.93" width="1.4" height="1.4" stroke="none" transform="rotate(315 753.77 198.63)"/>
</g>
<g fill="#e5e5e7" stroke="#e5e5e7">
<circle cx="767.8" cy="201.6" r="2.6" stroke="none"/>
<line x1="770.4" y1="201.6" x2="772" y2="201.6" stroke-width="1.1"/>
<rect x="771.3" y="200.9" width="1.4" height="1.4" stroke="none" transform="rotate(0 772 201.6)"/>
<line x1="769.64" y1="203.44" x2="770.77" y2="204.57" stroke-width="1.1"/>
<rect x="770.07" y="203.87" width="1.4" height="1.4" stroke="none" transform="rotate(45 770.77 204.57)"/>
<line x1="767.8" y1="204.2" x2="767.8" y2="205.8" stroke-width="1.1"/>
<rect x="767.1" y="205.1" width="1.4" height="1.4" stroke="none" transform="rotate(90 767.8 205.8)"/>
<line x1="765.96" y1="203.44" x2="764.83" y2="204.57" stroke-width="1.1"/>
<rect x="764.13" y="203.87" width="1.4" height="1.4" stroke="none" transform="rotate(135 764.83 204.57)"/>
<line x1="765.2" y1="201.6" x2="763.6" y2="201.6" stroke-width="1.1"/>
<rect x="762.9" y="200.9" width="1.4" height="1.4" stroke="none" transform="rotate(180 763.6 201.6)"/>
<line x1="765.96" y1="199.76" x2="764.83" y2="198.63" stroke-width="1.1"/>
<rect x="764.13" y="197.93" width="1.4" height="1.4" stroke="none" transform="rotate(225 764.83 198.63)"/>
<line x1="767.8" y1="199" x2="767.8" y2="197.4" stroke-width="1.1"/>
<rect x="767.1" y="196.7" width="1.4" height="1.4" stroke="none" transform="rotate(270 767.8 197.4)"/>
<line x1="769.64" y1="199.76" x2="770.77" y2="198.63" stroke-width="1.1"/>
<rect x="770.07" y="197.93" width="1.4" height="1.4" stroke="none" transform="rotate(315 770.77 198.63)"/>
</g>
<g fill="#e5e5e7" stroke="#e5e5e7">
<circle cx="784.8" cy="201.6" r="2.6" stroke="none"/>
<line x1="787.4" y1="201.6" x2="789" y2="201.6" stroke-width="1.1"/>
<rect x="788.3" y="200.9" width="1.4" height="1.4" stroke="none" transform="rotate(0 789 201.6)"/>
<line x1="786.64" y1="203.44" x2="787.77" y2="204.57" stroke-width="1.1"/>
<rect x="787.07" y="203.87" width="1.4" height="1.4" stroke="none" transform="rotate(45 787.77 204.57)"/>
<line x1="784.8" y1="204.2" x2="784.8" y2="205.8" stroke-width="1.1"/>
<rect x="784.1" y="205.1" width="1.4" height="1.4" stroke="none" transform="rotate(90 784.8 205.8)"/>
<line x1="782.96" y1="203.44" x2="781.83" y2="204.57" stroke-width="1.1"/>
<rect x="781.13" y="203.87" width="1.4" height="1.4" stroke="none" transform="rotate(135 781.83 204.57)"/>
<line x1="782.2" y1="201.6" x2="780.6" y2="201.6" stroke-width="1.1"/>
<rect x="779.9" y="200.9" width="1.4" height="1.4" stroke="none" transform="rotate(180 780.6 201.6)"/>
<line x1="782.96" y1="199.76" x2="781.83" y2="198.63" stroke-width="1.1"/>
<rect x="781.13" y="197.93" width="1.4" height="1.4" stroke="none" transform="rotate(225 781.83 198.63)"/>
<line x1="784.8" y1="199" x2="784.8" y2="197.4" stroke-width="1.1"/>
<rect x="784.1" y="196.7" width="1.4" height="1.4" stroke="none" transform="rotate(270 784.8 197.4)"/>
<line x1="786.64" y1="199.76" x2="787.77" y2="198.63" stroke-width="1.1"/>
<rect x="787.07" y="197.93" width="1.4" height="1.4" stroke="none" transform="rotate(315 787.77 198.63)"/>
</g>
<g fill="#e5e5e7" stroke="#e5e5e7">
<circle cx="742.3" cy="210.4" r="2.6" stroke="none"/>
<line x1="744.9" y1="210.4" x2="746.5" y2="210.4" stroke-width="1.1"/>
<rect x="745.8" y="209.7" width="1.4" height="1.4" stroke="none" transform="rotate(0 746.5 210.4)"/>
<line x1="744.14" y1="212.24" x2="745.27" y2="213.37" stroke-width="1.1"/>
<rect x="744.57" y="212.67" width="1.4" height="1.4" stroke="none" transform="rotate(45 745.27 213.37)"/>
<line x1="742.3" y1="213" x2="742.3" y2="214.6" stroke-width="1.1"/>
<rect x="741.6" y="213.9" width="1.4" height="1.4" stroke="none" transform="rotate(90 742.3 214.6)"/>
<line x1="740.46" y1="212.24" x2="739.33" y2="213.37" stroke-width="1.1"/>
<rect x="738.63" y="212.67" width="1.4" height="1.4" stroke="none" transform="rotate(135 739.33 213.37)"/>
<line x1="739.7" y1="210.4" x2="738.1" y2="210.4" stroke-width="1.1"/>
<rect x="737.4" y="209.7" width="1.4" height="1.4" stroke="none" transform="rotate(180 738.1 210.4)"/>
<line x1="740.46" y1="208.56" x2="739.33" y2="207.43" stroke-width="1.1"/>
<rect x="738.63" y="206.73" width="1.4" height="1.4" stroke="none" transform="rotate(225 739.33 207.43)"/>
<line x1="742.3" y1="207.8" x2="742.3" y2="206.2" stroke-width="1.1"/>
<rect x="741.6" y="205.5" width="1.4" height="1.4" stroke="none" transform="rotate(270 742.3 206.2)"/>
<line x1="744.14" y1="208.56" x2="745.27" y2="207.43" stroke-width="1.1"/>
<rect x="744.57" y="206.73" width="1.4" height="1.4" stroke="none" transform="rotate(315 745.27 207.43)"/>
</g>
<g fill="#e5e5e7" stroke="#e5e5e7">
<circle cx="759.3" cy="210.4" r="2.6" stroke="none"/>
<line x1="761.9" y1="210.4" x2="763.5" y2="210.4" stroke-width="1.1"/>
<rect x="762.8" y="209.7" width="1.4" height="1.4" stroke="none" transform="rotate(0 763.5 210.4)"/>
<line x1="761.14" y1="212.24" x2="762.27" y2="213.37" stroke-width="1.1"/>
<rect x="761.57" y="212.67" width="1.4" height="1.4" stroke="none" transform="rotate(45 762.27 213.37)"/>
<line x1="759.3" y1="213" x2="759.3" y2="214.6" stroke-width="1.1"/>
<rect x="758.6" y="213.9" width="1.4" height="1.4" stroke="none" transform="rotate(90 759.3 214.6)"/>
<line x1="757.46" y1="212.24" x2="756.33" y2="213.37" stroke-width="1.1"/>
<rect x="755.63" y="212.67" width="1.4" height="1.4" stroke="none" transform="rotate(135 756.33 213.37)"/>
<line x1="756.7" y1="210.4" x2="755.1" y2="210.4" stroke-width="1.1"/>
<rect x="754.4" y="209.7" width="1.4" height="1.4" stroke="none" transform="rotate(180 755.1 210.4)"/>
<line x1="757.46" y1="208.56" x2="756.33" y2="207.43" stroke-width="1.1"/>
<rect x="755.63" y="206.73" width="1.4" height="1.4" stroke="none" transform="rotate(225 756.33 207.43)"/>
<line x1="759.3" y1="207.8" x2="759.3" y2="206.2" stroke-width="1.1"/>
<rect x="758.6" y="205.5" width="1.4" height="1.4" stroke="none" transform="rotate(270 759.3 206.2)"/>
<line x1="761.14" y1="208.56" x2="762.27" y2="207.43" stroke-width="1.1"/>
<rect x="761.57" y="206.73" width="1.4" height="1.4" stroke="none" transform="rotate(315 762.27 207.43)"/>
</g>
<g fill="#e5e5e7" stroke="#e5e5e7">
<circle cx="776.3" cy="210.4" r="2.6" stroke="none"/>
<line x1="778.9" y1="210.4" x2="780.5" y2="210.4" stroke-width="1.1"/>
<rect x="779.8" y="209.7" width="1.4" height="1.4" stroke="none" transform="rotate(0 780.5 210.4)"/>
<line x1="778.14" y1="212.24" x2="779.27" y2="213.37" stroke-width="1.1"/>
<rect x="778.57" y="212.67" width="1.4" height="1.4" stroke="none" transform="rotate(45 779.27 213.37)"/>
<line x1="776.3" y1="213" x2="776.3" y2="214.6" stroke-width="1.1"/>
<rect x="775.6" y="213.9" width="1.4" height="1.4" stroke="none" transform="rotate(90 776.3 214.6)"/>
<line x1="774.46" y1="212.24" x2="773.33" y2="213.37" stroke-width="1.1"/>
<rect x="772.63" y="212.67" width="1.4" height="1.4" stroke="none" transform="rotate(135 773.33 213.37)"/>
<line x1="773.7" y1="210.4" x2="772.1" y2="210.4" stroke-width="1.1"/>
<rect x="771.4" y="209.7" width="1.4" height="1.4" stroke="none" transform="rotate(180 772.1 210.4)"/>
<line x1="774.46" y1="208.56" x2="773.33" y2="207.43" stroke-width="1.1"/>
<rect x="772.63" y="206.73" width="1.4" height="1.4" stroke="none" transform="rotate(225 773.33 207.43)"/>
<line x1="776.3" y1="207.8" x2="776.3" y2="206.2" stroke-width="1.1"/>
<rect x="775.6" y="205.5" width="1.4" height="1.4" stroke="none" transform="rotate(270 776.3 206.2)"/>
<line x1="778.14" y1="208.56" x2="779.27" y2="207.43" stroke-width="1.1"/>
<rect x="778.57" y="206.73" width="1.4" height="1.4" stroke="none" transform="rotate(315 779.27 207.43)"/>
</g>
<g fill="#e5e5e7" stroke="#e5e5e7">
<circle cx="750.8" cy="219.2" r="2.6" stroke="none"/>
<line x1="753.4" y1="219.2" x2="755" y2="219.2" stroke-width="1.1"/>
<rect x="754.3" y="218.5" width="1.4" height="1.4" stroke="none" transform="rotate(0 755 219.2)"/>
<line x1="752.64" y1="221.04" x2="753.77" y2="222.17" stroke-width="1.1"/>
<rect x="753.07" y="221.47" width="1.4" height="1.4" stroke="none" transform="rotate(45 753.77 222.17)"/>
<line x1="750.8" y1="221.8" x2="750.8" y2="223.4" stroke-width="1.1"/>
<rect x="750.1" y="222.7" width="1.4" height="1.4" stroke="none" transform="rotate(90 750.8 223.4)"/>
<line x1="748.96" y1="221.04" x2="747.83" y2="222.17" stroke-width="1.1"/>
<rect x="747.13" y="221.47" width="1.4" height="1.4" stroke="none" transform="rotate(135 747.83 222.17)"/>
<line x1="748.2" y1="219.2" x2="746.6" y2="219.2" stroke-width="1.1"/>
<rect x="745.9" y="218.5" width="1.4" height="1.4" stroke="none" transform="rotate(180 746.6 219.2)"/>
<line x1="748.96" y1="217.36" x2="747.83" y2="216.23" stroke-width="1.1"/>
<rect x="747.13" y="215.53" width="1.4" height="1.4" stroke="none" transform="rotate(225 747.83 216.23)"/>
<line x1="750.8" y1="216.6" x2="750.8" y2="215" stroke-width="1.1"/>
<rect x="750.1" y="214.3" width="1.4" height="1.4" stroke="none" transform="rotate(270 750.8 215)"/>
<line x1="752.64" y1="217.36" x2="753.77" y2="216.23" stroke-width="1.1"/>
<rect x="753.07" y="215.53" width="1.4" height="1.4" stroke="none" transform="rotate(315 753.77 216.23)"/>
</g>
<g fill="#e5e5e7" stroke="#e5e5e7">
<circle cx="767.8" cy="219.2" r="2.6" stroke="none"/>
<line x1="770.4" y1="219.2" x2="772" y2="219.2" stroke-width="1.1"/>
<rect x="771.3" y="218.5" width="1.4" height="1.4" stroke="none" transform="rotate(0 772 219.2)"/>
<line x1="769.64" y1="221.04" x2="770.77" y2="222.17" stroke-width="1.1"/>
<rect x="770.07" y="221.47" width="1.4" height="1.4" stroke="none" transform="rotate(45 770.77 222.17)"/>
<line x1="767.8" y1="221.8" x2="767.8" y2="223.4" stroke-width="1.1"/>
<rect x="767.1" y="222.7" width="1.4" height="1.4" stroke="none" transform="rotate(90 767.8 223.4)"/>
<line x1="765.96" y1="221.04" x2="764.83" y2="222.17" stroke-width="1.1"/>
<rect x="764.13" y="221.47" width="1.4" height="1.4" stroke="none" transform="rotate(135 764.83 222.17)"/>
<line x1="765.2" y1="219.2" x2="763.6" y2="219.2" stroke-width="1.1"/>
<rect x="762.9" y="218.5" width="1.4" height="1.4" stroke="none" transform="rotate(180 763.6 219.2)"/>
<line x1="765.96" y1="217.36" x2="764.83" y2="216.23" stroke-width="1.1"/>
<rect x="764.13" y="215.53" width="1.4" height="1.4" stroke="none" transform="rotate(225 764.83 216.23)"/>
<line x1="767.8" y1="216.6" x2="767.8" y2="215" stroke-width="1.1"/>
<rect x="767.1" y="214.3" width="1.4" height="1.4" stroke="none" transform="rotate(270 767.8 215)"/>
<line x1="769.64" y1="217.36" x2="770.77" y2="216.23" stroke-width="1.1"/>
<rect x="770.07" y="215.53" width="1.4" height="1.4" stroke="none" transform="rotate(315 770.77 216.23)"/>
</g>
<circle cx="759.3" cy="184.3" r="16.4" fill="#f0f0f1" stroke="#b9b9b9" stroke-width="1"/>
<line x1="691" y1="184.5" x2="763" y2="184.5" stroke="#5e5e5e" stroke-width="0.95" stroke-dasharray="2 2"/>
<path d="M760.5,180 L764.6,184.4 L760.5,188.8" fill="none" stroke="#1c1c1c" stroke-width="1.8"/>
<g stroke="#d4d4d4" stroke-width="1" fill="none">
<path d="M708.3,180.5 H715 M708.3,188.5 H715 M712.5,175 L715.5,178 M712.5,194 L715.5,191 M737,181.6 H742 M737,187.4 H742"/>
</g>
<g stroke="#4a4a4a" stroke-width="0.9" fill="none" stroke-dasharray="1.6 2.4">
<path d="M690.5,268.8 C700,266 709,259 716.2,249.6"/>
<path d="M690.5,268.8 C708,269.5 724,271 739,274.5"/>
<path d="M768.5,285.5 C774,289 780,293 785.5,296.5"/>
<path d="M690.5,268.8 C712,276 727,292 736.8,311.5"/>
</g>
<g>
<line x1="769.46" y1="278.94" x2="775.19" y2="281.31" stroke="#cdcdcd" stroke-width="2.4"/>
<line x1="769.46" y1="278.94" x2="775.19" y2="281.31" stroke="#e8e8e8" stroke-width="0.8"/>
<g transform="translate(774.91,281.2) rotate(22.5) scale(1)"><path d="M0.4,-2.6 C-0.3,-3.9 1.2,-4.5 2.3,-4 C3.1,-4.7 5.1,-4.3 5.3,-2.8 C6.3,-2 6.3,2 5.3,2.8 C5.1,4.3 3.1,4.7 2.3,4 C1.2,4.5 -0.3,3.9 0.4,2.6 C-0.2,1.3 -0.2,-1.3 0.4,-2.6 Z" fill="#fff" stroke="#c4c4c4" stroke-width="0.9"/></g>
<line x1="761.34" y1="287.06" x2="763.71" y2="292.79" stroke="#cdcdcd" stroke-width="2.4"/>
<line x1="761.34" y1="287.06" x2="763.71" y2="292.79" stroke="#e8e8e8" stroke-width="0.8"/>
<g transform="translate(763.6,292.51) rotate(67.5) scale(1)"><path d="M0.4,-2.6 C-0.3,-3.9 1.2,-4.5 2.3,-4 C3.1,-4.7 5.1,-4.3 5.3,-2.8 C6.3,-2 6.3,2 5.3,2.8 C5.1,4.3 3.1,4.7 2.3,4 C1.2,4.5 -0.3,3.9 0.4,2.6 C-0.2,1.3 -0.2,-1.3 0.4,-2.6 Z" fill="#fff" stroke="#c4c4c4" stroke-width="0.9"/></g>
<line x1="749.86" y1="287.06" x2="747.49" y2="292.79" stroke="#cdcdcd" stroke-width="2.4"/>
<line x1="749.86" y1="287.06" x2="747.49" y2="292.79" stroke="#e8e8e8" stroke-width="0.8"/>
<g transform="translate(747.6,292.51) rotate(112.5) scale(1)"><path d="M0.4,-2.6 C-0.3,-3.9 1.2,-4.5 2.3,-4 C3.1,-4.7 5.1,-4.3 5.3,-2.8 C6.3,-2 6.3,2 5.3,2.8 C5.1,4.3 3.1,4.7 2.3,4 C1.2,4.5 -0.3,3.9 0.4,2.6 C-0.2,1.3 -0.2,-1.3 0.4,-2.6 Z" fill="#fff" stroke="#c4c4c4" stroke-width="0.9"/></g>
<line x1="741.74" y1="278.94" x2="736.01" y2="281.31" stroke="#cdcdcd" stroke-width="2.4"/>
<line x1="741.74" y1="278.94" x2="736.01" y2="281.31" stroke="#e8e8e8" stroke-width="0.8"/>
<g transform="translate(736.29,281.2) rotate(157.5) scale(1)"><path d="M0.4,-2.6 C-0.3,-3.9 1.2,-4.5 2.3,-4 C3.1,-4.7 5.1,-4.3 5.3,-2.8 C6.3,-2 6.3,2 5.3,2.8 C5.1,4.3 3.1,4.7 2.3,4 C1.2,4.5 -0.3,3.9 0.4,2.6 C-0.2,1.3 -0.2,-1.3 0.4,-2.6 Z" fill="#fff" stroke="#c4c4c4" stroke-width="0.9"/></g>
<line x1="741.74" y1="267.46" x2="736.01" y2="265.09" stroke="#cdcdcd" stroke-width="2.4"/>
<line x1="741.74" y1="267.46" x2="736.01" y2="265.09" stroke="#e8e8e8" stroke-width="0.8"/>
<g transform="translate(736.29,265.2) rotate(202.5) scale(1)"><path d="M0.4,-2.6 C-0.3,-3.9 1.2,-4.5 2.3,-4 C3.1,-4.7 5.1,-4.3 5.3,-2.8 C6.3,-2 6.3,2 5.3,2.8 C5.1,4.3 3.1,4.7 2.3,4 C1.2,4.5 -0.3,3.9 0.4,2.6 C-0.2,1.3 -0.2,-1.3 0.4,-2.6 Z" fill="#fff" stroke="#c4c4c4" stroke-width="0.9"/></g>
<line x1="749.86" y1="259.34" x2="747.49" y2="253.61" stroke="#cdcdcd" stroke-width="2.4"/>
<line x1="749.86" y1="259.34" x2="747.49" y2="253.61" stroke="#e8e8e8" stroke-width="0.8"/>
<g transform="translate(747.6,253.89) rotate(247.5) scale(1)"><path d="M0.4,-2.6 C-0.3,-3.9 1.2,-4.5 2.3,-4 C3.1,-4.7 5.1,-4.3 5.3,-2.8 C6.3,-2 6.3,2 5.3,2.8 C5.1,4.3 3.1,4.7 2.3,4 C1.2,4.5 -0.3,3.9 0.4,2.6 C-0.2,1.3 -0.2,-1.3 0.4,-2.6 Z" fill="#fff" stroke="#c4c4c4" stroke-width="0.9"/></g>
<line x1="761.34" y1="259.34" x2="763.71" y2="253.61" stroke="#cdcdcd" stroke-width="2.4"/>
<line x1="761.34" y1="259.34" x2="763.71" y2="253.61" stroke="#e8e8e8" stroke-width="0.8"/>
<g transform="translate(763.6,253.89) rotate(292.5) scale(1)"><path d="M0.4,-2.6 C-0.3,-3.9 1.2,-4.5 2.3,-4 C3.1,-4.7 5.1,-4.3 5.3,-2.8 C6.3,-2 6.3,2 5.3,2.8 C5.1,4.3 3.1,4.7 2.3,4 C1.2,4.5 -0.3,3.9 0.4,2.6 C-0.2,1.3 -0.2,-1.3 0.4,-2.6 Z" fill="#fff" stroke="#c4c4c4" stroke-width="0.9"/></g>
<line x1="769.46" y1="267.46" x2="775.19" y2="265.09" stroke="#cdcdcd" stroke-width="2.4"/>
<line x1="769.46" y1="267.46" x2="775.19" y2="265.09" stroke="#e8e8e8" stroke-width="0.8"/>
<g transform="translate(774.91,265.2) rotate(337.5) scale(1)"><path d="M0.4,-2.6 C-0.3,-3.9 1.2,-4.5 2.3,-4 C3.1,-4.7 5.1,-4.3 5.3,-2.8 C6.3,-2 6.3,2 5.3,2.8 C5.1,4.3 3.1,4.7 2.3,4 C1.2,4.5 -0.3,3.9 0.4,2.6 C-0.2,1.3 -0.2,-1.3 0.4,-2.6 Z" fill="#fff" stroke="#c4c4c4" stroke-width="0.9"/></g>
<line x1="766.21" y1="283.81" x2="767.76" y2="285.36" stroke="#c6c6c6" stroke-width="1.4"/>
<line x1="755.6" y1="288.2" x2="755.6" y2="290.4" stroke="#c6c6c6" stroke-width="1.4"/>
<line x1="744.99" y1="283.81" x2="743.44" y2="285.36" stroke="#c6c6c6" stroke-width="1.4"/>
<line x1="740.6" y1="273.2" x2="738.4" y2="273.2" stroke="#c6c6c6" stroke-width="1.4"/>
<line x1="744.99" y1="262.59" x2="743.44" y2="261.04" stroke="#c6c6c6" stroke-width="1.4"/>
<line x1="755.6" y1="258.2" x2="755.6" y2="256" stroke="#c6c6c6" stroke-width="1.4"/>
<line x1="766.21" y1="262.59" x2="767.76" y2="261.04" stroke="#c6c6c6" stroke-width="1.4"/>
<line x1="770.6" y1="273.2" x2="772.8" y2="273.2" stroke="#c6c6c6" stroke-width="1.4"/>
<circle cx="755.6" cy="273.2" r="15" fill="#fff" stroke="#c6c6c6" stroke-width="1"/>
</g>
<polyline points="748.84,275.01 743.42,273.88 748.68,272.15 744.17,268.95 749.68,269.47 746.82,264.73 751.67,267.41 750.95,261.92 754.31,266.32 755.86,261 757.17,266.38 760.72,262.13 759.77,267.58 764.72,265.1 761.67,269.72 767.2,269.43 762.56,272.44 767.74,274.39 762.28,275.29 766.25,279.15 760.88,277.79 762.98,282.92 758.6,279.52" fill="none" stroke="#c6c6c6" stroke-width="1"/>
<path d="M722.8,252.9 L715.7,248.8 M723.57,252.67 L730.07,250.68 M722.98,253.68 L724.51,260.31" stroke="#6d6ec0" stroke-width="3" fill="none"/>
<path d="M722.8,252.9 L715.7,248.8 M723.57,252.67 L730.07,250.68 M722.98,253.68 L724.51,260.31" stroke="#fff" stroke-width="1" fill="none"/>
<path d="M788.5,288.6 L789.92,296.68 M787.83,288.16 L782.13,284.46 M788.98,287.96 L793.07,282.53" stroke="#6d6ec0" stroke-width="3" fill="none"/>
<path d="M788.5,288.6 L789.92,296.68 M787.83,288.16 L782.13,284.46 M788.98,287.96 L793.07,282.53" stroke="#fff" stroke-width="1" fill="none"/>
<path d="M743.8,306.7 L736.52,311.99 M743.87,305.9 L744.46,299.13 M744.58,306.88 L751.21,308.41" stroke="#141414" stroke-width="4.4" fill="none" stroke-linecap="square" stroke-linejoin="round"/>
<path d="M743.8,306.7 L736.52,311.99 M743.87,305.9 L744.46,299.13 M744.58,306.88 L751.21,308.41" stroke="#6a6bb4" stroke-width="2.6" fill="none"/>
<path d="M743.8,306.7 L736.52,311.99 M743.87,305.9 L744.46,299.13 M744.58,306.88 L751.21,308.41" stroke="#1a1a2a" stroke-width="0.8" fill="none"/>
</svg>

<div class="box" style="left:31px;top:40px;width:94px;height:42px;"></div>
<div class="hd" style="left:62px;top:38.5px;">複製</div>
<div class="hd" style="left:26px;top:58.5px;">ウイルスベクター</div>
<div class="t" style="left:17px;top:90px;text-align:center;width:120px;font-size:14px;line-height:16.5px;"><span class="s12">SARS-CoV-2</span>遺伝子<br>別のウイルスで</div>

<div class="t" style="left:17px;top:310px;text-align:center;width:120px;font-size:14px;line-height:16.5px;"><span class="s12">SARS-CoV-2</span>遺伝子<br>別のウイルスで</div>
<div class="box" style="left:17px;top:353px;width:122px;height:42px;"></div>
<div class="hd" style="left:37px;top:352px;">複製しない</div>
<div class="hd" style="left:15px;top:371px;">ウイルスベクター</div>

<div class="gr" style="left:310px;top:38.5px;line-height:19.5px;">ウイルスベクターの複製は細<br>胞に感染し、<span class="s15">SARS-CoV-2</span>抗原<br>と追加のベクターを産生する</div>
<div class="gr" style="left:311px;top:312.5px;line-height:19.6px;">非複製ウイルスベク<br>ターは細胞に感染<br>し、<span class="s15">SARS-CoV-2</span>抗原<br>を産生する</div>

<div class="t" style="left:300px;top:141px;font-size:14px;">細胞</div>
<div class="t" style="left:429.5px;top:137.5px;font-size:14.5px;">ベクタ</div>
<div class="t" style="left:398px;top:214.5px;font-size:14px;">抗原</div>
<div class="t" style="left:513px;top:259.5px;font-size:12.5px;letter-spacing:-0.5px;">APC</div>
<div class="t" style="left:550px;top:163px;font-size:14px;line-height:16.8px;">ウイルス<br>ペプチド</div>
<div class="t" style="left:574px;top:242.5px;font-size:14px;line-height:15.5px;"><span class="s12">T</span>ヘルパー<br>細胞</div>
<div class="t" style="left:656px;top:132px;font-size:14px;line-height:17px;"><span>細胞毒性</span><br><span class="s12">T</span>細胞</div>
<div class="t" style="left:657px;top:282px;font-size:14px;"><span class="s125">B</span>細胞</div>
</body></html>
